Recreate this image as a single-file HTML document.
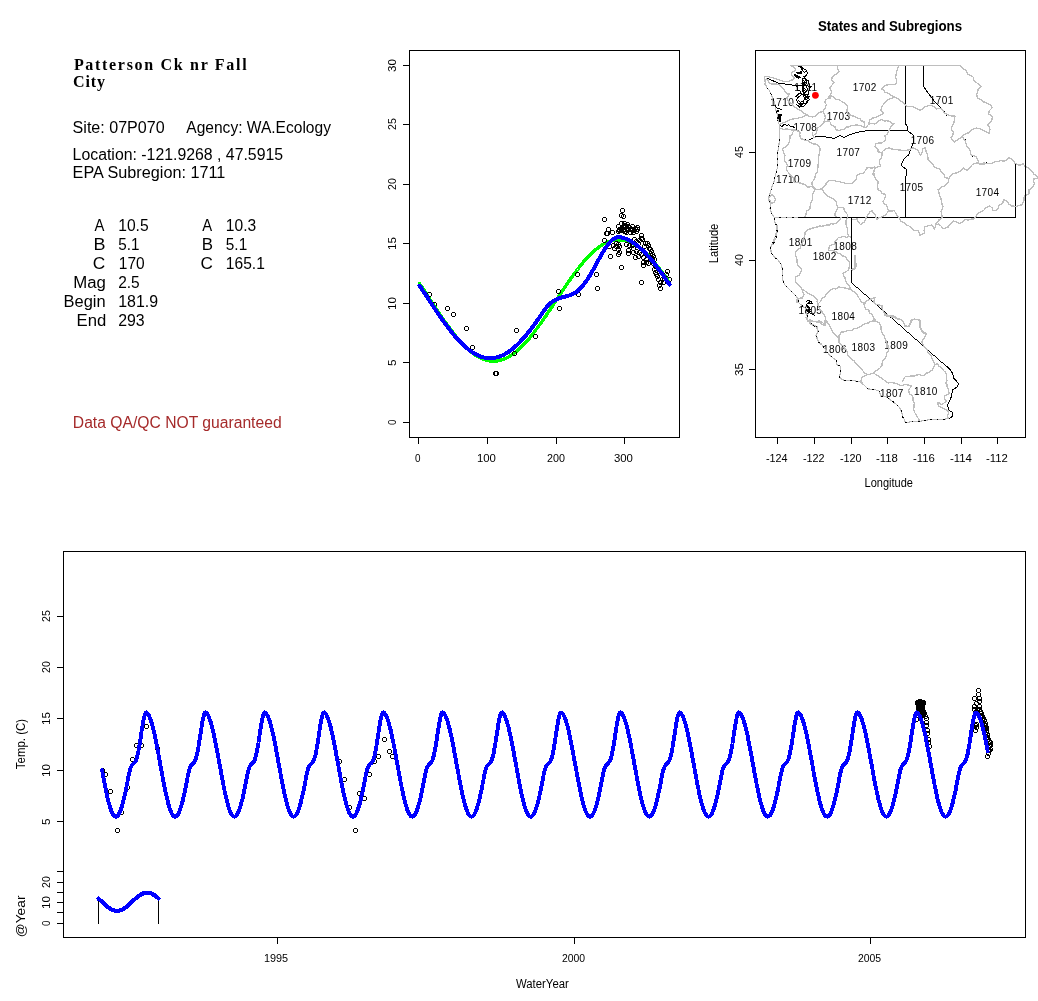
<!DOCTYPE html>
<html><head><meta charset="utf-8"><title>Patterson Ck nr Fall City</title>
<style>html,body{margin:0;padding:0;background:#fff}svg{display:block}text{white-space:pre}</style></head>
<body><svg width="1038" height="1001" viewBox="0 0 1038 1001">
<rect width="1038" height="1001" fill="#fff"/>
<g shape-rendering="crispEdges">
<rect x="409.5" y="50.5" width="270" height="387" fill="none" stroke="#000"/>
<line x1="403" y1="422.5" x2="409" y2="422.5" stroke="#000" stroke-width="1" />
<line x1="403" y1="362.5" x2="409" y2="362.5" stroke="#000" stroke-width="1" />
<line x1="403" y1="303.5" x2="409" y2="303.5" stroke="#000" stroke-width="1" />
<line x1="403" y1="243.5" x2="409" y2="243.5" stroke="#000" stroke-width="1" />
<line x1="403" y1="184.5" x2="409" y2="184.5" stroke="#000" stroke-width="1" />
<line x1="403" y1="124.5" x2="409" y2="124.5" stroke="#000" stroke-width="1" />
<line x1="403" y1="65.5" x2="409" y2="65.5" stroke="#000" stroke-width="1" />
<line x1="418.5" y1="437" x2="418.5" y2="444" stroke="#000" stroke-width="1" />
<line x1="487.5" y1="437" x2="487.5" y2="444" stroke="#000" stroke-width="1" />
<line x1="556.5" y1="437" x2="556.5" y2="444" stroke="#000" stroke-width="1" />
<line x1="624.5" y1="437" x2="624.5" y2="444" stroke="#000" stroke-width="1" />
</g>
<g font-family='"Liberation Sans", sans-serif' font-size="11.2">
</g>
<polyline points="419.5,283.6 420.9,285.6 422.2,287.6 423.6,289.7 425.0,291.7 426.4,293.8 427.7,295.9 429.1,298.0 430.5,300.1 431.8,302.1 433.2,304.2 434.6,306.3 436.0,308.4 437.3,310.5 438.7,312.5 440.1,314.6 441.5,316.6 442.8,318.6 444.2,320.6 445.6,322.5 447.0,324.5 448.3,326.4 449.7,328.2 451.1,330.1 452.5,331.9 453.8,333.7 455.2,335.4 456.6,337.1 457.9,338.7 459.3,340.3 460.7,341.9 462.1,343.4 463.4,344.8 464.8,346.2 466.2,347.6 467.6,348.9 468.9,350.1 470.3,351.3 471.7,352.4 473.1,353.5 474.4,354.4 475.8,355.4 477.2,356.2 478.6,357.0 479.9,357.7 481.3,358.4 482.7,359.0 484.0,359.5 485.4,360.0 486.8,360.4 488.2,360.7 489.5,360.9 490.9,361.1 492.3,361.2 493.7,361.2 495.0,361.1 496.4,361.0 497.8,360.8 499.2,360.6 500.5,360.2 501.9,359.8 503.3,359.3 504.6,358.8 506.0,358.2 507.4,357.5 508.8,356.8 510.1,355.9 511.5,355.0 512.9,354.1 514.3,353.1 515.6,352.0 517.0,350.9 518.4,349.7 519.8,348.4 521.1,347.1 522.5,345.8 523.9,344.3 525.3,342.9 526.6,341.3 528.0,339.8 529.4,338.2 530.7,336.5 532.1,334.8 533.5,333.1 534.9,331.3 536.2,329.4 537.6,327.6 539.0,325.7 540.4,323.8 541.7,321.8 543.1,319.9 544.5,317.9 545.9,315.9 547.2,313.8 548.6,311.8 550.0,309.7 551.4,307.7 552.7,305.6 554.1,303.5 555.5,301.4 556.8,299.3 558.2,297.2 559.6,295.2 561.0,293.1 562.3,291.0 563.7,288.9 565.1,286.9 566.5,284.9 567.8,282.9 569.2,280.9 570.6,278.9 572.0,277.0 573.3,275.0 574.7,273.2 576.1,271.3 577.5,269.5 578.8,267.7 580.2,266.0 581.6,264.3 582.9,262.6 584.3,261.0 585.7,259.4 587.1,257.9 588.4,256.5 589.8,255.1 591.2,253.7 592.6,252.4 593.9,251.1 595.3,250.0 596.7,248.8 598.1,247.8 599.4,246.7 600.8,245.8 602.2,244.9 603.5,244.1 604.9,243.4 606.3,242.7 607.7,242.1 609.0,241.6 610.4,241.1 611.8,240.7 613.2,240.4 614.5,240.1 615.9,239.9 617.3,239.8 618.7,239.8 620.0,239.8 621.4,239.9 622.8,240.1 624.2,240.3 625.5,240.6 626.9,241.0 628.3,241.5 629.6,242.0 631.0,242.6 632.4,243.3 633.8,244.0 635.1,244.8 636.5,245.7 637.9,246.6 639.3,247.6 640.6,248.7 642.0,249.8 643.4,251.0 644.8,252.2 646.1,253.5 647.5,254.8 648.9,256.2 650.3,257.7 651.6,259.2 653.0,260.8 654.4,262.4 655.7,264.0 657.1,265.7 658.5,267.5 659.9,269.2 661.2,271.0 662.6,272.9 664.0,274.8 665.4,276.7 666.7,278.6 668.1,280.6 669.5,282.6" fill="none" stroke="#00FF00" stroke-width="3.4" stroke-linejoin="round" stroke-linecap="round" shape-rendering="crispEdges"/>
<path d="M428.0 292.5h3M428.0 296.5h3M427.5 293.0v3M431.5 293.0v3M433.0 302.5h3M433.0 306.5h3M432.5 303.0v3M436.5 303.0v3M446.0 306.5h3M446.0 310.5h3M445.5 307.0v3M449.5 307.0v3M452.0 312.5h3M452.0 316.5h3M451.5 313.0v3M455.5 313.0v3M465.0 326.5h3M465.0 330.5h3M464.5 327.0v3M468.5 327.0v3M471.0 345.5h3M471.0 349.5h3M470.5 346.0v3M474.5 346.0v3M494.0 371.5h3M494.0 375.5h3M493.5 372.0v3M497.5 372.0v3M495.0 371.5h3M495.0 375.5h3M494.5 372.0v3M498.5 372.0v3M515.0 328.5h3M515.0 332.5h3M514.5 329.0v3M518.5 329.0v3M513.0 351.5h3M513.0 355.5h3M512.5 352.0v3M516.5 352.0v3M534.0 334.5h3M534.0 338.5h3M533.5 335.0v3M537.5 335.0v3M558.0 306.5h3M558.0 310.5h3M557.5 307.0v3M561.5 307.0v3M557.0 289.5h3M557.0 293.5h3M556.5 290.0v3M560.5 290.0v3M576.0 272.5h3M576.0 276.5h3M575.5 273.0v3M579.5 273.0v3M577.0 292.5h3M577.0 296.5h3M576.5 293.0v3M580.5 293.0v3M595.0 272.5h3M595.0 276.5h3M594.5 273.0v3M598.5 273.0v3M596.0 286.5h3M596.0 290.5h3M595.5 287.0v3M599.5 287.0v3M609.0 254.5h3M609.0 258.5h3M608.5 255.0v3M612.5 255.0v3M620.0 265.5h3M620.0 269.5h3M619.5 266.0v3M623.5 266.0v3M640.0 280.5h3M640.0 284.5h3M639.5 281.0v3M643.5 281.0v3M603.0 217.5h3M603.0 221.5h3M602.5 218.0v3M606.5 218.0v3M621.0 208.5h3M621.0 212.5h3M620.5 209.0v3M624.5 209.0v3M620.0 213.5h3M620.0 217.5h3M619.5 214.0v3M623.5 214.0v3M622.0 214.5h3M622.0 218.5h3M621.5 215.0v3M625.5 215.0v3M607.0 227.5h3M607.0 231.5h3M606.5 228.0v3M610.5 228.0v3M605.0 231.5h3M605.0 235.5h3M604.5 232.0v3M608.5 232.0v3M606.0 231.5h3M606.0 235.5h3M605.5 232.0v3M609.5 232.0v3M605.0 231.5h3M605.0 235.5h3M604.5 232.0v3M608.5 232.0v3M611.0 230.5h3M611.0 234.5h3M610.5 231.0v3M614.5 231.0v3M603.0 238.5h3M603.0 242.5h3M602.5 239.0v3M606.5 239.0v3M617.0 224.5h3M617.0 228.5h3M616.5 225.0v3M620.5 225.0v3M620.0 221.5h3M620.0 225.5h3M619.5 222.0v3M623.5 222.0v3M623.0 221.5h3M623.0 225.5h3M622.5 222.0v3M626.5 222.0v3M626.0 222.5h3M626.0 226.5h3M625.5 223.0v3M629.5 223.0v3M624.0 224.5h3M624.0 228.5h3M623.5 225.0v3M627.5 225.0v3M621.0 226.5h3M621.0 230.5h3M620.5 227.0v3M624.5 227.0v3M618.0 227.5h3M618.0 231.5h3M617.5 228.0v3M621.5 228.0v3M617.0 229.5h3M617.0 233.5h3M616.5 230.0v3M620.5 230.0v3M620.0 228.5h3M620.0 232.5h3M619.5 229.0v3M623.5 229.0v3M623.0 227.5h3M623.0 231.5h3M622.5 228.0v3M626.5 228.0v3M626.0 227.5h3M626.0 231.5h3M625.5 228.0v3M629.5 228.0v3M628.0 225.5h3M628.0 229.5h3M627.5 226.0v3M631.5 226.0v3M631.0 224.5h3M631.0 228.5h3M630.5 225.0v3M634.5 225.0v3M631.0 227.5h3M631.0 231.5h3M630.5 228.0v3M634.5 228.0v3M634.0 226.5h3M634.0 230.5h3M633.5 227.0v3M637.5 227.0v3M636.0 225.5h3M636.0 229.5h3M635.5 226.0v3M639.5 226.0v3M636.0 227.5h3M636.0 231.5h3M635.5 228.0v3M639.5 228.0v3M635.0 229.5h3M635.0 233.5h3M634.5 230.0v3M638.5 230.0v3M632.0 230.5h3M632.0 234.5h3M631.5 231.0v3M635.5 231.0v3M629.0 230.5h3M629.0 234.5h3M628.5 231.0v3M632.5 231.0v3M625.0 230.5h3M625.0 234.5h3M624.5 231.0v3M628.5 231.0v3M640.0 233.5h3M640.0 237.5h3M639.5 234.0v3M643.5 234.0v3M640.0 236.5h3M640.0 240.5h3M639.5 237.0v3M643.5 237.0v3M638.0 238.5h3M638.0 242.5h3M637.5 239.0v3M641.5 239.0v3M641.0 237.5h3M641.0 241.5h3M640.5 238.0v3M644.5 238.0v3M646.0 241.5h3M646.0 245.5h3M645.5 242.0v3M649.5 242.0v3M647.0 243.5h3M647.0 247.5h3M646.5 244.0v3M650.5 244.0v3M648.0 246.5h3M648.0 250.5h3M647.5 247.0v3M651.5 247.0v3M650.0 249.5h3M650.0 253.5h3M649.5 250.0v3M653.5 250.0v3M651.0 252.5h3M651.0 256.5h3M650.5 253.0v3M654.5 253.0v3M652.0 254.5h3M652.0 258.5h3M651.5 255.0v3M655.5 255.0v3M653.0 257.5h3M653.0 261.5h3M652.5 258.0v3M656.5 258.0v3M618.0 228.5h3M618.0 232.5h3M617.5 229.0v3M621.5 229.0v3M620.0 227.5h3M620.0 231.5h3M619.5 228.0v3M623.5 228.0v3M622.0 224.5h3M622.0 228.5h3M621.5 225.0v3M625.5 225.0v3M624.0 223.5h3M624.0 227.5h3M623.5 224.0v3M627.5 224.0v3M625.0 226.5h3M625.0 230.5h3M624.5 227.0v3M628.5 227.0v3M627.0 224.5h3M627.0 228.5h3M626.5 225.0v3M630.5 225.0v3M623.0 229.5h3M623.0 233.5h3M622.5 230.0v3M626.5 230.0v3M624.0 229.5h3M624.0 233.5h3M623.5 230.0v3M627.5 230.0v3M629.0 227.5h3M629.0 231.5h3M628.5 228.0v3M632.5 228.0v3M633.0 228.5h3M633.0 232.5h3M632.5 229.0v3M636.5 229.0v3M608.0 244.5h3M608.0 248.5h3M607.5 245.0v3M611.5 245.0v3M612.0 243.5h3M612.0 247.5h3M611.5 244.0v3M615.5 244.0v3M613.0 246.5h3M613.0 250.5h3M612.5 247.0v3M616.5 247.0v3M615.0 241.5h3M615.0 245.5h3M614.5 242.0v3M618.5 242.0v3M617.0 242.5h3M617.0 246.5h3M616.5 243.0v3M620.5 243.0v3M618.0 244.5h3M618.0 248.5h3M617.5 245.0v3M621.5 245.0v3M617.0 247.5h3M617.0 251.5h3M616.5 248.0v3M620.5 248.0v3M618.0 250.5h3M618.0 254.5h3M617.5 251.0v3M621.5 251.0v3M617.0 252.5h3M617.0 256.5h3M616.5 253.0v3M620.5 253.0v3M615.0 244.5h3M615.0 248.5h3M614.5 245.0v3M618.5 245.0v3M625.0 242.5h3M625.0 246.5h3M624.5 243.0v3M628.5 243.0v3M628.0 243.5h3M628.0 247.5h3M627.5 244.0v3M631.5 244.0v3M631.0 243.5h3M631.0 247.5h3M630.5 244.0v3M634.5 244.0v3M632.0 246.5h3M632.0 250.5h3M631.5 247.0v3M635.5 247.0v3M627.0 248.5h3M627.0 252.5h3M626.5 249.0v3M630.5 249.0v3M627.0 251.5h3M627.0 255.5h3M626.5 252.0v3M630.5 252.0v3M632.0 250.5h3M632.0 254.5h3M631.5 251.0v3M635.5 251.0v3M634.0 255.5h3M634.0 259.5h3M633.5 256.0v3M637.5 256.0v3M637.0 254.5h3M637.0 258.5h3M636.5 255.0v3M640.5 255.0v3M635.0 249.5h3M635.0 253.5h3M634.5 250.0v3M638.5 250.0v3M638.0 250.5h3M638.0 254.5h3M637.5 251.0v3M641.5 251.0v3M640.0 252.5h3M640.0 256.5h3M639.5 253.0v3M643.5 253.0v3M642.0 255.5h3M642.0 259.5h3M641.5 256.0v3M645.5 256.0v3M642.0 260.5h3M642.0 264.5h3M641.5 261.0v3M645.5 261.0v3M642.0 263.5h3M642.0 267.5h3M641.5 264.0v3M645.5 264.0v3M645.0 257.5h3M645.0 261.5h3M644.5 258.0v3M648.5 258.0v3M647.0 261.5h3M647.0 265.5h3M646.5 262.0v3M650.5 262.0v3M645.0 260.5h3M645.0 264.5h3M644.5 261.0v3M648.5 261.0v3M653.0 267.5h3M653.0 271.5h3M652.5 268.0v3M656.5 268.0v3M654.0 270.5h3M654.0 274.5h3M653.5 271.0v3M657.5 271.0v3M656.0 274.5h3M656.0 278.5h3M655.5 275.0v3M659.5 275.0v3M657.0 277.5h3M657.0 281.5h3M656.5 278.0v3M660.5 278.0v3M659.0 280.5h3M659.0 284.5h3M658.5 281.0v3M662.5 281.0v3M658.0 283.5h3M658.0 287.5h3M657.5 284.0v3M661.5 284.0v3M659.0 286.5h3M659.0 290.5h3M658.5 287.0v3M662.5 287.0v3M662.0 280.5h3M662.0 284.5h3M661.5 281.0v3M665.5 281.0v3M663.0 276.5h3M663.0 280.5h3M662.5 277.0v3M666.5 277.0v3M665.0 272.5h3M665.0 276.5h3M664.5 273.0v3M668.5 273.0v3M666.0 269.5h3M666.0 273.5h3M665.5 270.0v3M669.5 270.0v3M668.0 277.5h3M668.0 281.5h3M667.5 278.0v3M671.5 278.0v3M661.0 277.5h3M661.0 281.5h3M660.5 278.0v3M664.5 278.0v3M655.0 272.5h3M655.0 276.5h3M654.5 273.0v3M658.5 273.0v3M649.0 253.5h3M649.0 257.5h3M648.5 254.0v3M652.5 254.0v3M651.0 257.5h3M651.0 261.5h3M650.5 258.0v3M654.5 258.0v3M649.0 247.5h3M649.0 251.5h3M648.5 248.0v3M652.5 248.0v3M652.0 261.5h3M652.0 265.5h3M651.5 262.0v3M655.5 262.0v3M654.0 264.5h3M654.0 268.5h3M653.5 265.0v3M657.5 265.0v3M643.0 244.5h3M643.0 248.5h3M642.5 245.0v3M646.5 245.0v3M644.0 241.5h3M644.0 245.5h3M643.5 242.0v3M647.5 242.0v3M637.0 241.5h3M637.0 245.5h3M636.5 242.0v3M640.5 242.0v3M635.0 239.5h3M635.0 243.5h3M634.5 240.0v3M638.5 240.0v3M633.0 237.5h3M633.0 241.5h3M632.5 238.0v3M636.5 238.0v3" fill="none" stroke="#000" stroke-width="1" shape-rendering="crispEdges"/>
<polyline points="419.5,285.6 420.9,287.6 422.2,289.7 423.6,291.8 425.0,293.8 426.4,295.9 427.7,298.0 429.1,300.1 430.5,302.2 431.8,304.3 433.2,306.3 434.6,308.4 436.0,310.5 437.3,312.5 438.7,314.5 440.1,316.5 441.5,318.5 442.8,320.4 444.2,322.4 445.6,324.2 447.0,326.1 448.3,327.9 449.7,329.7 451.1,331.5 452.5,333.2 453.8,334.9 455.2,336.5 456.6,338.1 457.9,339.6 459.3,341.1 460.7,342.5 462.1,343.9 463.4,345.2 464.8,346.5 466.2,347.7 467.6,348.8 468.9,349.9 470.3,350.9 471.7,351.9 473.1,352.8 474.4,353.6 475.8,354.4 477.2,355.1 478.6,355.7 479.9,356.3 481.3,356.8 482.7,357.2 484.0,357.5 485.4,357.8 486.8,358.0 488.2,358.1 489.5,358.2 490.9,358.2 492.3,358.1 493.7,358.0 495.0,357.7 496.4,357.4 497.8,357.1 499.2,356.6 500.5,356.1 501.9,355.6 503.3,354.9 504.6,354.2 506.0,353.4 507.4,352.6 508.8,351.7 510.1,350.7 511.5,349.6 512.9,348.5 514.3,347.4 515.6,346.2 517.0,344.9 518.4,343.5 519.8,342.1 521.1,340.7 522.5,339.2 523.9,337.7 525.3,336.1 526.6,334.4 528.0,332.8 529.4,331.0 530.7,329.3 532.1,327.5 533.5,325.6 534.9,323.8 536.2,321.9 537.6,319.9 539.0,318.0 540.4,316.0 541.7,314.0 543.1,312.0 544.5,310.0 545.9,308.1 547.2,306.4 548.6,304.9 550.0,303.6 551.4,302.4 552.7,301.4 554.1,300.5 555.5,299.8 556.8,299.1 558.2,298.6 559.6,298.1 561.0,297.7 562.3,297.3 563.7,297.0 565.1,296.6 566.5,296.3 567.8,295.9 569.2,295.5 570.6,295.0 572.0,294.4 573.3,293.7 574.7,293.0 576.1,292.1 577.5,291.0 578.8,289.8 580.2,288.5 581.6,287.1 582.9,285.5 584.3,283.8 585.7,281.9 587.1,279.9 588.4,277.8 589.8,275.5 591.2,273.2 592.6,270.8 593.9,268.4 595.3,265.9 596.7,263.4 598.1,260.8 599.4,258.3 600.8,255.9 602.2,253.5 603.5,251.2 604.9,249.0 606.3,246.9 607.7,245.0 609.0,243.2 610.4,241.7 611.8,240.3 613.2,239.2 614.5,238.3 615.9,237.6 617.3,237.2 618.7,237.1 620.0,237.2 621.4,237.5 622.8,237.8 624.2,238.2 625.5,238.7 626.9,239.3 628.3,239.9 629.6,240.6 631.0,241.4 632.4,242.2 633.8,243.1 635.1,244.1 636.5,245.1 637.9,246.2 639.3,247.3 640.6,248.5 642.0,249.8 643.4,251.1 644.8,252.5 646.1,253.9 647.5,255.4 648.9,256.9 650.3,258.5 651.6,260.1 653.0,261.8 654.4,263.5 655.7,265.3 657.1,267.1 658.5,268.9 659.9,270.8 661.2,272.6 662.6,274.6 664.0,276.5 665.4,278.5 666.7,280.5 668.1,282.5 669.5,284.5" fill="none" stroke="#0000FF" stroke-width="4" stroke-linejoin="round" stroke-linecap="round" shape-rendering="crispEdges"/>
<g shape-rendering="crispEdges">
<rect x="63.5" y="551.5" width="962" height="386" fill="none" stroke="#000"/>
<line x1="57" y1="821.5" x2="63" y2="821.5" stroke="#000" stroke-width="1" />
<line x1="57" y1="770.5" x2="63" y2="770.5" stroke="#000" stroke-width="1" />
<line x1="57" y1="718.5" x2="63" y2="718.5" stroke="#000" stroke-width="1" />
<line x1="57" y1="667.5" x2="63" y2="667.5" stroke="#000" stroke-width="1" />
<line x1="57" y1="616.5" x2="63" y2="616.5" stroke="#000" stroke-width="1" />
<line x1="57" y1="923.5" x2="63" y2="923.5" stroke="#000" stroke-width="1" />
<line x1="57" y1="912.5" x2="63" y2="912.5" stroke="#000" stroke-width="1" />
<line x1="57" y1="902.5" x2="63" y2="902.5" stroke="#000" stroke-width="1" />
<line x1="57" y1="892.5" x2="63" y2="892.5" stroke="#000" stroke-width="1" />
<line x1="57" y1="882.5" x2="63" y2="882.5" stroke="#000" stroke-width="1" />
<line x1="57" y1="871.5" x2="63" y2="871.5" stroke="#000" stroke-width="1" />
<line x1="277.5" y1="937" x2="277.5" y2="944" stroke="#000" stroke-width="1" />
<line x1="574.5" y1="937" x2="574.5" y2="944" stroke="#000" stroke-width="1" />
<line x1="870.5" y1="937" x2="870.5" y2="944" stroke="#000" stroke-width="1" />
</g>
<g font-family='"Liberation Sans", sans-serif' font-size="11.2">
</g>
<path d="M101.0 768.5h3M101.0 772.5h3M100.5 769.0v3M104.5 769.0v3M104.0 772.5h3M104.0 776.5h3M103.5 773.0v3M107.5 773.0v3M109.0 789.5h3M109.0 793.5h3M108.5 790.0v3M112.5 790.0v3M116.0 828.5h3M116.0 832.5h3M115.5 829.0v3M119.5 829.0v3M120.0 810.5h3M120.0 814.5h3M119.5 811.0v3M123.5 811.0v3M126.0 785.5h3M126.0 789.5h3M125.5 786.0v3M129.5 786.0v3M131.0 757.5h3M131.0 761.5h3M130.5 758.0v3M134.5 758.0v3M135.0 743.5h3M135.0 747.5h3M134.5 744.0v3M138.5 744.0v3M140.0 743.5h3M140.0 747.5h3M139.5 744.0v3M143.5 744.0v3M145.0 724.5h3M145.0 728.5h3M144.5 725.0v3M148.5 725.0v3M156.0 746.5h3M156.0 750.5h3M155.5 747.0v3M159.5 747.0v3M338.0 759.5h3M338.0 763.5h3M337.5 760.0v3M341.5 760.0v3M343.0 777.5h3M343.0 781.5h3M342.5 778.0v3M346.5 778.0v3M348.0 805.5h3M348.0 809.5h3M347.5 806.0v3M351.5 806.0v3M354.0 828.5h3M354.0 832.5h3M353.5 829.0v3M357.5 829.0v3M358.0 791.5h3M358.0 795.5h3M357.5 792.0v3M361.5 792.0v3M363.0 796.5h3M363.0 800.5h3M362.5 797.0v3M366.5 797.0v3M368.0 772.5h3M368.0 776.5h3M367.5 773.0v3M371.5 773.0v3M373.0 759.5h3M373.0 763.5h3M372.5 760.0v3M376.5 760.0v3M377.0 754.5h3M377.0 758.5h3M376.5 755.0v3M380.5 755.0v3M383.0 737.5h3M383.0 741.5h3M382.5 738.0v3M386.5 738.0v3M388.0 749.5h3M388.0 753.5h3M387.5 750.0v3M391.5 750.0v3M391.0 754.5h3M391.0 758.5h3M390.5 755.0v3M394.5 755.0v3" fill="none" stroke="#000" stroke-width="1" shape-rendering="crispEdges"/>
<path d="M918.0 701.5h3M918.0 705.5h3M917.5 702.0v3M921.5 702.0v3M920.0 700.5h3M920.0 704.5h3M919.5 701.0v3M923.5 701.0v3M919.0 704.5h3M919.0 708.5h3M918.5 705.0v3M922.5 705.0v3M916.0 700.5h3M916.0 704.5h3M915.5 701.0v3M919.5 701.0v3M919.0 711.5h3M919.0 715.5h3M918.5 712.0v3M922.5 712.0v3M917.0 702.5h3M917.0 706.5h3M916.5 703.0v3M920.5 703.0v3M920.0 713.5h3M920.0 717.5h3M919.5 714.0v3M923.5 714.0v3M920.0 705.5h3M920.0 709.5h3M919.5 706.0v3M923.5 706.0v3M922.0 700.5h3M922.0 704.5h3M921.5 701.0v3M925.5 701.0v3M921.0 703.5h3M921.0 707.5h3M920.5 704.0v3M924.5 704.0v3M917.0 701.5h3M917.0 705.5h3M916.5 702.0v3M920.5 702.0v3M920.0 704.5h3M920.0 708.5h3M919.5 705.0v3M923.5 705.0v3M919.0 700.5h3M919.0 704.5h3M918.5 701.0v3M922.5 701.0v3M920.0 705.5h3M920.0 709.5h3M919.5 706.0v3M923.5 706.0v3M918.0 707.5h3M918.0 711.5h3M917.5 708.0v3M921.5 708.0v3M919.0 703.5h3M919.0 707.5h3M918.5 704.0v3M922.5 704.0v3M921.0 709.5h3M921.0 713.5h3M920.5 710.0v3M924.5 710.0v3M917.0 707.5h3M917.0 711.5h3M916.5 708.0v3M920.5 708.0v3M919.0 712.5h3M919.0 716.5h3M918.5 713.0v3M922.5 713.0v3M921.0 703.5h3M921.0 707.5h3M920.5 704.0v3M924.5 704.0v3M922.0 701.5h3M922.0 705.5h3M921.5 702.0v3M925.5 702.0v3M919.0 710.5h3M919.0 714.5h3M918.5 711.0v3M922.5 711.0v3M921.0 707.5h3M921.0 711.5h3M920.5 708.0v3M924.5 708.0v3M921.0 704.5h3M921.0 708.5h3M920.5 705.0v3M924.5 705.0v3M920.0 708.5h3M920.0 712.5h3M919.5 709.0v3M923.5 709.0v3M920.0 706.5h3M920.0 710.5h3M919.5 707.0v3M923.5 707.0v3M921.0 713.5h3M921.0 717.5h3M920.5 714.0v3M924.5 714.0v3M919.0 709.5h3M919.0 713.5h3M918.5 710.0v3M922.5 710.0v3M920.0 713.5h3M920.0 717.5h3M919.5 714.0v3M923.5 714.0v3M921.0 703.5h3M921.0 707.5h3M920.5 704.0v3M924.5 704.0v3M918.0 709.5h3M918.0 713.5h3M917.5 710.0v3M921.5 710.0v3M917.0 701.5h3M917.0 705.5h3M916.5 702.0v3M920.5 702.0v3M917.0 703.5h3M917.0 707.5h3M916.5 704.0v3M920.5 704.0v3M918.0 712.5h3M918.0 716.5h3M917.5 713.0v3M921.5 713.0v3M919.0 712.5h3M919.0 716.5h3M918.5 713.0v3M922.5 713.0v3M921.0 712.5h3M921.0 716.5h3M920.5 713.0v3M924.5 713.0v3M918.0 705.5h3M918.0 709.5h3M917.5 706.0v3M921.5 706.0v3M918.0 712.5h3M918.0 716.5h3M917.5 713.0v3M921.5 713.0v3M922.0 701.5h3M922.0 705.5h3M921.5 702.0v3M925.5 702.0v3M917.0 702.5h3M917.0 706.5h3M916.5 703.0v3M920.5 703.0v3M917.0 706.5h3M917.0 710.5h3M916.5 707.0v3M920.5 707.0v3M920.0 703.5h3M920.0 707.5h3M919.5 704.0v3M923.5 704.0v3M918.0 707.5h3M918.0 711.5h3M917.5 708.0v3M921.5 708.0v3M922.0 709.5h3M922.0 713.5h3M921.5 710.0v3M925.5 710.0v3M919.0 708.5h3M919.0 712.5h3M918.5 709.0v3M922.5 709.0v3M920.0 700.5h3M920.0 704.5h3M919.5 701.0v3M923.5 701.0v3M922.0 710.5h3M922.0 714.5h3M921.5 711.0v3M925.5 711.0v3M921.0 711.5h3M921.0 715.5h3M920.5 712.0v3M924.5 712.0v3M918.0 705.5h3M918.0 709.5h3M917.5 706.0v3M921.5 706.0v3M916.0 700.5h3M916.0 704.5h3M915.5 701.0v3M919.5 701.0v3M917.0 701.5h3M917.0 705.5h3M916.5 702.0v3M920.5 702.0v3M918.0 700.5h3M918.0 704.5h3M917.5 701.0v3M921.5 701.0v3M920.0 701.5h3M920.0 705.5h3M919.5 702.0v3M923.5 702.0v3M917.0 704.5h3M917.0 708.5h3M916.5 705.0v3M920.5 705.0v3M918.0 701.5h3M918.0 705.5h3M917.5 702.0v3M921.5 702.0v3M921.0 713.5h3M921.0 717.5h3M920.5 714.0v3M924.5 714.0v3M919.0 706.5h3M919.0 710.5h3M918.5 707.0v3M922.5 707.0v3M916.0 700.5h3M916.0 704.5h3M915.5 701.0v3M919.5 701.0v3M918.0 703.5h3M918.0 707.5h3M917.5 704.0v3M921.5 704.0v3M921.0 701.5h3M921.0 705.5h3M920.5 702.0v3M924.5 702.0v3M919.0 701.5h3M919.0 705.5h3M918.5 702.0v3M922.5 702.0v3M919.0 699.5h3M919.0 703.5h3M918.5 700.0v3M922.5 700.0v3M919.0 713.5h3M919.0 717.5h3M918.5 714.0v3M922.5 714.0v3M921.0 709.5h3M921.0 713.5h3M920.5 710.0v3M924.5 710.0v3M917.0 704.5h3M917.0 708.5h3M916.5 705.0v3M920.5 705.0v3M919.0 710.5h3M919.0 714.5h3M918.5 711.0v3M922.5 711.0v3M918.0 702.5h3M918.0 706.5h3M917.5 703.0v3M921.5 703.0v3M921.0 713.5h3M921.0 717.5h3M920.5 714.0v3M924.5 714.0v3M921.0 711.5h3M921.0 715.5h3M920.5 712.0v3M924.5 712.0v3M921.0 710.5h3M921.0 714.5h3M920.5 711.0v3M924.5 711.0v3M917.0 707.5h3M917.0 711.5h3M916.5 708.0v3M920.5 708.0v3M918.0 699.5h3M918.0 703.5h3M917.5 700.0v3M921.5 700.0v3M919.0 699.5h3M919.0 703.5h3M918.5 700.0v3M922.5 700.0v3M916.0 701.5h3M916.0 705.5h3M915.5 702.0v3M919.5 702.0v3M921.0 701.5h3M921.0 705.5h3M920.5 702.0v3M924.5 702.0v3M925.0 716.5h3M925.0 720.5h3M924.5 717.0v3M928.5 717.0v3M926.0 728.5h3M926.0 732.5h3M925.5 729.0v3M929.5 729.0v3M926.0 731.5h3M926.0 735.5h3M925.5 732.0v3M929.5 732.0v3M927.0 737.5h3M927.0 741.5h3M926.5 738.0v3M930.5 738.0v3M927.0 740.5h3M927.0 744.5h3M926.5 741.0v3M930.5 741.0v3M928.0 744.5h3M928.0 748.5h3M927.5 745.0v3M931.5 745.0v3M925.0 720.5h3M925.0 724.5h3M924.5 721.0v3M928.5 721.0v3M925.0 723.5h3M925.0 727.5h3M924.5 724.0v3M928.5 724.0v3M924.0 714.5h3M924.0 718.5h3M923.5 715.0v3M927.5 715.0v3M923.0 711.5h3M923.0 715.5h3M922.5 712.0v3M926.5 712.0v3M915.0 717.5h3M915.0 721.5h3M914.5 718.0v3M918.5 718.0v3M977.0 688.5h3M977.0 692.5h3M976.5 689.0v3M980.5 689.0v3M977.0 692.5h3M977.0 696.5h3M976.5 693.0v3M980.5 693.0v3M973.0 696.5h3M973.0 700.5h3M972.5 697.0v3M976.5 697.0v3M978.0 696.5h3M978.0 700.5h3M977.5 697.0v3M981.5 697.0v3M978.0 699.5h3M978.0 703.5h3M977.5 700.0v3M981.5 700.0v3M978.0 704.5h3M978.0 708.5h3M977.5 705.0v3M981.5 705.0v3M973.0 704.5h3M973.0 708.5h3M972.5 705.0v3M976.5 705.0v3M975.0 701.5h3M975.0 705.5h3M974.5 702.0v3M978.5 702.0v3M976.0 707.5h3M976.0 711.5h3M975.5 708.0v3M979.5 708.0v3M973.0 707.5h3M973.0 711.5h3M972.5 708.0v3M976.5 708.0v3M975.0 709.5h3M975.0 713.5h3M974.5 710.0v3M978.5 710.0v3M980.0 711.5h3M980.0 715.5h3M979.5 712.0v3M983.5 712.0v3M981.0 714.5h3M981.0 718.5h3M980.5 715.0v3M984.5 715.0v3M982.0 716.5h3M982.0 720.5h3M981.5 717.0v3M985.5 717.0v3M983.0 718.5h3M983.0 722.5h3M982.5 719.0v3M986.5 719.0v3M984.0 721.5h3M984.0 725.5h3M983.5 722.0v3M987.5 722.0v3M984.0 723.5h3M984.0 727.5h3M983.5 724.0v3M987.5 724.0v3M985.0 725.5h3M985.0 729.5h3M984.5 726.0v3M988.5 726.0v3M985.0 728.5h3M985.0 732.5h3M984.5 729.0v3M988.5 729.0v3M985.0 730.5h3M985.0 734.5h3M984.5 731.0v3M988.5 731.0v3M986.0 732.5h3M986.0 736.5h3M985.5 733.0v3M989.5 733.0v3M986.0 735.5h3M986.0 739.5h3M985.5 736.0v3M989.5 736.0v3M987.0 737.5h3M987.0 741.5h3M986.5 738.0v3M990.5 738.0v3M988.0 739.5h3M988.0 743.5h3M987.5 740.0v3M991.5 740.0v3M989.0 740.5h3M989.0 744.5h3M988.5 741.0v3M992.5 741.0v3M989.0 743.5h3M989.0 747.5h3M988.5 744.0v3M992.5 744.0v3M989.0 747.5h3M989.0 751.5h3M988.5 748.0v3M992.5 748.0v3M988.0 748.5h3M988.0 752.5h3M987.5 749.0v3M991.5 749.0v3M987.0 751.5h3M987.0 755.5h3M986.5 752.0v3M990.5 752.0v3M986.0 754.5h3M986.0 758.5h3M985.5 755.0v3M989.5 755.0v3M975.0 725.5h3M975.0 729.5h3M974.5 726.0v3M978.5 726.0v3M974.0 728.5h3M974.0 732.5h3M973.5 729.0v3M977.5 729.0v3M975.0 722.5h3M975.0 726.5h3M974.5 723.0v3M978.5 723.0v3M974.0 723.5h3M974.0 727.5h3M973.5 724.0v3M977.5 724.0v3M980.0 713.5h3M980.0 717.5h3M979.5 714.0v3M983.5 714.0v3M982.0 720.5h3M982.0 724.5h3M981.5 721.0v3M985.5 721.0v3M983.0 722.5h3M983.0 726.5h3M982.5 723.0v3M986.5 723.0v3M984.0 726.5h3M984.0 730.5h3M983.5 727.0v3M987.5 727.0v3M984.0 731.5h3M984.0 735.5h3M983.5 732.0v3M987.5 732.0v3M985.0 736.5h3M985.0 740.5h3M984.5 737.0v3M988.5 737.0v3M987.0 741.5h3M987.0 745.5h3M986.5 742.0v3M990.5 742.0v3M987.0 745.5h3M987.0 749.5h3M986.5 746.0v3M990.5 746.0v3M988.0 744.5h3M988.0 748.5h3M987.5 745.0v3M991.5 745.0v3M987.0 747.5h3M987.0 751.5h3M986.5 748.0v3M990.5 748.0v3M979.0 709.5h3M979.0 713.5h3M978.5 710.0v3M982.5 710.0v3M978.0 707.5h3M978.0 711.5h3M977.5 708.0v3M981.5 708.0v3M979.0 714.5h3M979.0 718.5h3M978.5 715.0v3M982.5 715.0v3M981.0 717.5h3M981.0 721.5h3M980.5 718.0v3M984.5 718.0v3" fill="none" stroke="#000" stroke-width="1" shape-rendering="crispEdges"/>
<polyline points="102.1,770.2 102.6,772.9 103.1,775.5 103.5,778.2 104.0,780.7 104.5,783.3 105.0,785.8 105.5,788.2 106.0,790.6 106.5,792.9 107.0,795.1 107.4,797.2 107.9,799.3 108.4,801.3 108.9,803.1 109.4,804.9 109.9,806.5 110.4,808.1 110.9,809.5 111.3,810.8 111.8,812.0 112.3,813.0 112.8,814.0 113.3,814.7 113.8,815.4 114.3,815.9 114.8,816.3 115.2,816.5 115.7,816.6 116.2,816.6 116.7,816.4 117.2,816.1 117.7,815.7 118.2,815.1 118.6,814.4 119.1,813.5 119.6,812.5 120.1,811.4 120.6,810.2 121.1,808.8 121.6,807.3 122.1,805.7 122.5,804.0 123.0,802.2 123.5,800.3 124.0,798.3 124.5,796.2 125.0,794.0 125.5,791.7 126.0,789.4 126.4,787.0 126.9,784.5 127.4,782.0 127.9,779.5 128.4,776.9 128.9,774.3 129.4,772.1 129.9,770.2 130.3,768.6 130.8,767.3 131.3,766.3 131.8,765.5 132.3,764.9 132.8,764.4 133.3,763.9 133.8,763.5 134.2,763.0 134.7,762.4 135.2,761.7 135.7,760.8 136.2,759.7 136.7,758.3 137.2,756.7 137.6,754.7 138.1,752.5 138.6,750.1 139.1,747.4 139.6,744.5 140.1,741.4 140.6,738.2 141.1,735.0 141.5,731.7 142.0,728.5 142.5,725.5 143.0,722.6 143.5,720.0 144.0,717.7 144.5,715.7 145.0,714.2 145.4,713.1 145.9,712.5 146.4,712.4 146.9,712.7 147.4,713.2 147.9,713.8 148.4,714.5 148.9,715.4 149.3,716.4 149.8,717.5 150.3,718.8 150.8,720.2 151.3,721.7 151.8,723.3 152.3,725.0 152.7,726.9 153.2,728.8 153.7,730.8 154.2,732.9 154.7,735.1 155.2,737.4 155.7,739.7 156.2,742.2 156.6,744.6 157.1,747.2 157.6,749.7 158.1,752.3 158.6,755.0 159.1,757.6 159.6,760.3 160.1,763.0 160.5,765.7 161.0,768.4 161.5,771.1 162.0,773.8 162.5,776.4 163.0,779.0 163.5,781.6 164.0,784.1 164.4,786.6 164.9,789.0 165.4,791.4 165.9,793.6 166.4,795.8 166.9,797.9 167.4,800.0 167.9,801.9 168.3,803.7 168.8,805.4 169.3,807.1 169.8,808.6 170.3,809.9 170.8,811.2 171.3,812.3 171.7,813.4 172.2,814.2 172.7,815.0 173.2,815.6 173.7,816.1 174.2,816.4 174.7,816.6 175.2,816.6 175.6,816.6 176.1,816.3 176.6,816.0 177.1,815.5 177.6,814.9 178.1,814.1 178.6,813.2 179.1,812.2 179.5,811.0 180.0,809.7 180.5,808.3 181.0,806.8 181.5,805.2 182.0,803.4 182.5,801.6 183.0,799.6 183.4,797.6 183.9,795.5 184.4,793.3 184.9,791.0 185.4,788.6 185.9,786.2 186.4,783.7 186.8,781.2 187.3,778.6 187.8,776.0 188.3,773.5 188.8,771.4 189.3,769.6 189.8,768.2 190.3,767.0 190.7,766.0 191.2,765.3 191.7,764.7 192.2,764.2 192.7,763.8 193.2,763.3 193.7,762.8 194.2,762.2 194.6,761.4 195.1,760.5 195.6,759.3 196.1,757.8 196.6,756.0 197.1,754.0 197.6,751.7 198.1,749.2 198.5,746.4 199.0,743.5 199.5,740.4 200.0,737.1 200.5,733.9 201.0,730.7 201.5,727.5 202.0,724.5 202.4,721.7 202.9,719.2 203.4,717.0 203.9,715.2 204.4,713.8 204.9,712.8 205.4,712.4 205.8,712.5 206.3,712.8 206.8,713.4 207.3,714.0 207.8,714.8 208.3,715.7 208.8,716.8 209.3,718.0 209.7,719.3 210.2,720.7 210.7,722.2 211.2,723.9 211.7,725.6 212.2,727.5 212.7,729.5 213.2,731.5 213.6,733.6 214.1,735.9 214.6,738.2 215.1,740.5 215.6,743.0 216.1,745.5 216.6,748.0 217.1,750.6 217.5,753.2 218.0,755.9 218.5,758.5 219.0,761.2 219.5,763.9 220.0,766.6 220.5,769.3 221.0,772.0 221.4,774.7 221.9,777.3 222.4,779.9 222.9,782.4 223.4,784.9 223.9,787.4 224.4,789.8 224.8,792.1 225.3,794.4 225.8,796.5 226.3,798.6 226.8,800.6 227.3,802.5 227.8,804.3 228.3,806.0 228.7,807.6 229.2,809.0 229.7,810.4 230.2,811.6 230.7,812.7 231.2,813.7 231.7,814.5 232.2,815.2 232.6,815.8 233.1,816.2 233.6,816.5 234.1,816.6 234.6,816.6 235.1,816.5 235.6,816.2 236.1,815.8 236.5,815.3 237.0,814.6 237.5,813.8 238.0,812.9 238.5,811.8 239.0,810.6 239.5,809.3 239.9,807.8 240.4,806.3 240.9,804.6 241.4,802.8 241.9,800.9 242.4,799.0 242.9,796.9 243.4,794.7 243.8,792.5 244.3,790.2 244.8,787.8 245.3,785.4 245.8,782.9 246.3,780.3 246.8,777.7 247.3,775.1 247.7,772.8 248.2,770.8 248.7,769.1 249.2,767.7 249.7,766.6 250.2,765.8 250.7,765.1 251.2,764.5 251.6,764.1 252.1,763.6 252.6,763.2 253.1,762.6 253.6,762.0 254.1,761.1 254.6,760.1 255.1,758.8 255.5,757.2 256.0,755.4 256.5,753.3 257.0,750.9 257.5,748.3 258.0,745.5 258.5,742.5 258.9,739.3 259.4,736.1 259.9,732.8 260.4,729.6 260.9,726.5 261.4,723.5 261.9,720.8 262.4,718.4 262.8,716.3 263.3,714.6 263.8,713.4 264.3,712.6 264.8,712.4 265.3,712.6 265.8,713.0 266.3,713.6 266.7,714.3 267.2,715.1 267.7,716.1 268.2,717.2 268.7,718.4 269.2,719.7 269.7,721.2 270.2,722.8 270.6,724.4 271.1,726.2 271.6,728.1 272.1,730.1 272.6,732.2 273.1,734.4 273.6,736.6 274.0,739.0 274.5,741.3 275.0,743.8 275.5,746.3 276.0,748.9 276.5,751.5 277.0,754.1 277.5,756.8 277.9,759.4 278.4,762.1 278.9,764.8 279.4,767.5 279.9,770.2 280.4,772.9 280.9,775.5 281.4,778.2 281.8,780.7 282.3,783.3 282.8,785.8 283.3,788.2 283.8,790.6 284.3,792.9 284.8,795.1 285.3,797.2 285.7,799.3 286.2,801.3 286.7,803.1 287.2,804.9 287.7,806.5 288.2,808.1 288.7,809.5 289.2,810.8 289.6,812.0 290.1,813.0 290.6,814.0 291.1,814.7 291.6,815.4 292.1,815.9 292.6,816.3 293.0,816.5 293.5,816.6 294.0,816.6 294.5,816.4 295.0,816.1 295.5,815.7 296.0,815.1 296.5,814.4 296.9,813.5 297.4,812.5 297.9,811.4 298.4,810.2 298.9,808.8 299.4,807.3 299.9,805.7 300.4,804.0 300.8,802.2 301.3,800.3 301.8,798.3 302.3,796.2 302.8,794.0 303.3,791.7 303.8,789.4 304.3,787.0 304.7,784.5 305.2,782.0 305.7,779.5 306.2,776.9 306.7,774.3 307.2,772.1 307.7,770.2 308.2,768.6 308.6,767.3 309.1,766.3 309.6,765.5 310.1,764.9 310.6,764.4 311.1,763.9 311.6,763.5 312.0,763.0 312.5,762.4 313.0,761.7 313.5,760.8 314.0,759.7 314.5,758.3 315.0,756.7 315.5,754.7 315.9,752.5 316.4,750.1 316.9,747.4 317.4,744.5 317.9,741.4 318.4,738.2 318.9,735.0 319.4,731.7 319.8,728.5 320.3,725.5 320.8,722.6 321.3,720.0 321.8,717.7 322.3,715.7 322.8,714.2 323.3,713.1 323.7,712.5 324.2,712.4 324.7,712.7 325.2,713.2 325.7,713.8 326.2,714.5 326.7,715.4 327.1,716.4 327.6,717.5 328.1,718.8 328.6,720.2 329.1,721.7 329.6,723.3 330.1,725.0 330.6,726.9 331.0,728.8 331.5,730.8 332.0,732.9 332.5,735.1 333.0,737.4 333.5,739.7 334.0,742.2 334.5,744.6 334.9,747.2 335.4,749.7 335.9,752.3 336.4,755.0 336.9,757.6 337.4,760.3 337.9,763.0 338.4,765.7 338.8,768.4 339.3,771.1 339.8,773.8 340.3,776.4 340.8,779.0 341.3,781.6 341.8,784.1 342.3,786.6 342.7,789.0 343.2,791.4 343.7,793.6 344.2,795.8 344.7,797.9 345.2,800.0 345.7,801.9 346.1,803.7 346.6,805.4 347.1,807.1 347.6,808.6 348.1,809.9 348.6,811.2 349.1,812.3 349.6,813.4 350.0,814.2 350.5,815.0 351.0,815.6 351.5,816.1 352.0,816.4 352.5,816.6 353.0,816.6 353.5,816.6 353.9,816.3 354.4,816.0 354.9,815.5 355.4,814.9 355.9,814.1 356.4,813.2 356.9,812.2 357.4,811.0 357.8,809.7 358.3,808.3 358.8,806.8 359.3,805.2 359.8,803.4 360.3,801.6 360.8,799.6 361.2,797.6 361.7,795.5 362.2,793.3 362.7,791.0 363.2,788.6 363.7,786.2 364.2,783.7 364.7,781.2 365.1,778.6 365.6,776.0 366.1,773.5 366.6,771.4 367.1,769.6 367.6,768.2 368.1,767.0 368.6,766.0 369.0,765.3 369.5,764.7 370.0,764.2 370.5,763.8 371.0,763.3 371.5,762.8 372.0,762.2 372.5,761.4 372.9,760.5 373.4,759.3 373.9,757.8 374.4,756.0 374.9,754.0 375.4,751.7 375.9,749.2 376.4,746.4 376.8,743.5 377.3,740.4 377.8,737.1 378.3,733.9 378.8,730.7 379.3,727.5 379.8,724.5 380.2,721.7 380.7,719.2 381.2,717.0 381.7,715.2 382.2,713.8 382.7,712.8 383.2,712.4 383.7,712.5 384.1,712.8 384.6,713.4 385.1,714.0 385.6,714.8 386.1,715.7 386.6,716.8 387.1,718.0 387.6,719.3 388.0,720.7 388.5,722.2 389.0,723.9 389.5,725.6 390.0,727.5 390.5,729.5 391.0,731.5 391.5,733.6 391.9,735.9 392.4,738.2 392.9,740.5 393.4,743.0 393.9,745.5 394.4,748.0 394.9,750.6 395.4,753.2 395.8,755.9 396.3,758.5 396.8,761.2 397.3,763.9 397.8,766.6 398.3,769.3 398.8,772.0 399.2,774.7 399.7,777.3 400.2,779.9 400.7,782.4 401.2,784.9 401.7,787.4 402.2,789.8 402.7,792.1 403.1,794.4 403.6,796.5 404.1,798.6 404.6,800.6 405.1,802.5 405.6,804.3 406.1,806.0 406.6,807.6 407.0,809.0 407.5,810.4 408.0,811.6 408.5,812.7 409.0,813.7 409.5,814.5 410.0,815.2 410.5,815.8 410.9,816.2 411.4,816.5 411.9,816.6 412.4,816.6 412.9,816.5 413.4,816.2 413.9,815.8 414.3,815.3 414.8,814.6 415.3,813.8 415.8,812.9 416.3,811.8 416.8,810.6 417.3,809.3 417.8,807.8 418.2,806.3 418.7,804.6 419.2,802.8 419.7,800.9 420.2,799.0 420.7,796.9 421.2,794.7 421.7,792.5 422.1,790.2 422.6,787.8 423.1,785.4 423.6,782.9 424.1,780.3 424.6,777.7 425.1,775.1 425.6,772.8 426.0,770.8 426.5,769.1 427.0,767.7 427.5,766.6 428.0,765.8 428.5,765.1 429.0,764.5 429.5,764.1 429.9,763.6 430.4,763.2 430.9,762.6 431.4,762.0 431.9,761.1 432.4,760.1 432.9,758.8 433.3,757.2 433.8,755.4 434.3,753.3 434.8,750.9 435.3,748.3 435.8,745.5 436.3,742.5 436.8,739.3 437.2,736.1 437.7,732.8 438.2,729.6 438.7,726.5 439.2,723.5 439.7,720.8 440.2,718.4 440.7,716.3 441.1,714.6 441.6,713.4 442.1,712.6 442.6,712.4 443.1,712.6 443.6,713.0 444.1,713.6 444.6,714.3 445.0,715.1 445.5,716.1 446.0,717.2 446.5,718.4 447.0,719.7 447.5,721.2 448.0,722.8 448.4,724.4 448.9,726.2 449.4,728.1 449.9,730.1 450.4,732.2 450.9,734.4 451.4,736.6 451.9,739.0 452.3,741.3 452.8,743.8 453.3,746.3 453.8,748.9 454.3,751.5 454.8,754.1 455.3,756.8 455.8,759.4 456.2,762.1 456.7,764.8 457.2,767.5 457.7,770.2 458.2,772.9 458.7,775.5 459.2,778.2 459.7,780.7 460.1,783.3 460.6,785.8 461.1,788.2 461.6,790.6 462.1,792.9 462.6,795.1 463.1,797.2 463.6,799.3 464.0,801.3 464.5,803.1 465.0,804.9 465.5,806.5 466.0,808.1 466.5,809.5 467.0,810.8 467.4,812.0 467.9,813.0 468.4,814.0 468.9,814.7 469.4,815.4 469.9,815.9 470.4,816.3 470.9,816.5 471.3,816.6 471.8,816.6 472.3,816.4 472.8,816.1 473.3,815.7 473.8,815.1 474.3,814.4 474.8,813.5 475.2,812.5 475.7,811.4 476.2,810.2 476.7,808.8 477.2,807.3 477.7,805.7 478.2,804.0 478.7,802.2 479.1,800.3 479.6,798.3 480.1,796.2 480.6,794.0 481.1,791.7 481.6,789.4 482.1,787.0 482.5,784.5 483.0,782.0 483.5,779.5 484.0,776.9 484.5,774.3 485.0,772.1 485.5,770.2 486.0,768.6 486.4,767.3 486.9,766.3 487.4,765.5 487.9,764.9 488.4,764.4 488.9,763.9 489.4,763.5 489.9,763.0 490.3,762.4 490.8,761.7 491.3,760.8 491.8,759.7 492.3,758.3 492.8,756.7 493.3,754.7 493.8,752.5 494.2,750.1 494.7,747.4 495.2,744.5 495.7,741.4 496.2,738.2 496.7,735.0 497.2,731.7 497.7,728.5 498.1,725.5 498.6,722.6 499.1,720.0 499.6,717.7 500.1,715.7 500.6,714.2 501.1,713.1 501.5,712.5 502.0,712.4 502.5,712.7 503.0,713.2 503.5,713.8 504.0,714.5 504.5,715.4 505.0,716.4 505.4,717.5 505.9,718.8 506.4,720.2 506.9,721.7 507.4,723.3 507.9,725.0 508.4,726.9 508.9,728.8 509.3,730.8 509.8,732.9 510.3,735.1 510.8,737.4 511.3,739.7 511.8,742.2 512.3,744.6 512.8,747.2 513.2,749.7 513.7,752.3 514.2,755.0 514.7,757.6 515.2,760.3 515.7,763.0 516.2,765.7 516.7,768.4 517.1,771.1 517.6,773.8 518.1,776.4 518.6,779.0 519.1,781.6 519.6,784.1 520.1,786.6 520.5,789.0 521.0,791.4 521.5,793.6 522.0,795.8 522.5,797.9 523.0,800.0 523.5,801.9 524.0,803.7 524.4,805.4 524.9,807.1 525.4,808.6 525.9,809.9 526.4,811.2 526.9,812.3 527.4,813.4 527.9,814.2 528.3,815.0 528.8,815.6 529.3,816.1 529.8,816.4 530.3,816.6 530.8,816.6 531.3,816.6 531.8,816.3 532.2,816.0 532.7,815.5 533.2,814.9 533.7,814.1 534.2,813.2 534.7,812.2 535.2,811.0 535.6,809.7 536.1,808.3 536.6,806.8 537.1,805.2 537.6,803.4 538.1,801.6 538.6,799.6 539.1,797.6 539.5,795.5 540.0,793.3 540.5,791.0 541.0,788.6 541.5,786.2 542.0,783.7 542.5,781.2 543.0,778.6 543.4,776.0 543.9,773.5 544.4,771.4 544.9,769.6 545.4,768.2 545.9,767.0 546.4,766.0 546.9,765.3 547.3,764.7 547.8,764.2 548.3,763.8 548.8,763.3 549.3,762.8 549.8,762.2 550.3,761.4 550.8,760.5 551.2,759.3 551.7,757.8 552.2,756.0 552.7,754.0 553.2,751.7 553.7,749.2 554.2,746.4 554.6,743.5 555.1,740.4 555.6,737.1 556.1,733.9 556.6,730.7 557.1,727.5 557.6,724.5 558.1,721.7 558.5,719.2 559.0,717.0 559.5,715.2 560.0,713.8 560.5,712.8 561.0,712.4 561.5,712.5 562.0,712.8 562.4,713.4 562.9,714.0 563.4,714.8 563.9,715.7 564.4,716.8 564.9,718.0 565.4,719.3 565.9,720.7 566.3,722.2 566.8,723.9 567.3,725.6 567.8,727.5 568.3,729.5 568.8,731.5 569.3,733.6 569.7,735.9 570.2,738.2 570.7,740.5 571.2,743.0 571.7,745.5 572.2,748.0 572.7,750.6 573.2,753.2 573.6,755.9 574.1,758.5 574.6,761.2 575.1,763.9 575.6,766.6 576.1,769.3 576.6,772.0 577.1,774.7 577.5,777.3 578.0,779.9 578.5,782.4 579.0,784.9 579.5,787.4 580.0,789.8 580.5,792.1 581.0,794.4 581.4,796.5 581.9,798.6 582.4,800.6 582.9,802.5 583.4,804.3 583.9,806.0 584.4,807.6 584.9,809.0 585.3,810.4 585.8,811.6 586.3,812.7 586.8,813.7 587.3,814.5 587.8,815.2 588.3,815.8 588.7,816.2 589.2,816.5 589.7,816.6 590.2,816.6 590.7,816.5 591.2,816.2 591.7,815.8 592.2,815.3 592.6,814.6 593.1,813.8 593.6,812.9 594.1,811.8 594.6,810.6 595.1,809.3 595.6,807.8 596.1,806.3 596.5,804.6 597.0,802.8 597.5,800.9 598.0,799.0 598.5,796.9 599.0,794.7 599.5,792.5 600.0,790.2 600.4,787.8 600.9,785.4 601.4,782.9 601.9,780.3 602.4,777.7 602.9,775.1 603.4,772.8 603.9,770.8 604.3,769.1 604.8,767.7 605.3,766.6 605.8,765.8 606.3,765.1 606.8,764.5 607.3,764.1 607.7,763.6 608.2,763.2 608.7,762.6 609.2,762.0 609.7,761.1 610.2,760.1 610.7,758.8 611.2,757.2 611.6,755.4 612.1,753.3 612.6,750.9 613.1,748.3 613.6,745.5 614.1,742.5 614.6,739.3 615.1,736.1 615.5,732.8 616.0,729.6 616.5,726.5 617.0,723.5 617.5,720.8 618.0,718.4 618.5,716.3 619.0,714.6 619.4,713.4 619.9,712.6 620.4,712.4 620.9,712.6 621.4,713.0 621.9,713.6 622.4,714.3 622.8,715.1 623.3,716.1 623.8,717.2 624.3,718.4 624.8,719.7 625.3,721.2 625.8,722.8 626.3,724.4 626.7,726.2 627.2,728.1 627.7,730.1 628.2,732.2 628.7,734.4 629.2,736.6 629.7,739.0 630.2,741.3 630.6,743.8 631.1,746.3 631.6,748.9 632.1,751.5 632.6,754.1 633.1,756.8 633.6,759.4 634.1,762.1 634.5,764.8 635.0,767.5 635.5,770.2 636.0,772.9 636.5,775.5 637.0,778.2 637.5,780.7 638.0,783.3 638.4,785.8 638.9,788.2 639.4,790.6 639.9,792.9 640.4,795.1 640.9,797.2 641.4,799.3 641.8,801.3 642.3,803.1 642.8,804.9 643.3,806.5 643.8,808.1 644.3,809.5 644.8,810.8 645.3,812.0 645.7,813.0 646.2,814.0 646.7,814.7 647.2,815.4 647.7,815.9 648.2,816.3 648.7,816.5 649.2,816.6 649.6,816.6 650.1,816.4 650.6,816.1 651.1,815.7 651.6,815.1 652.1,814.4 652.6,813.5 653.1,812.5 653.5,811.4 654.0,810.2 654.5,808.8 655.0,807.3 655.5,805.7 656.0,804.0 656.5,802.2 656.9,800.3 657.4,798.3 657.9,796.2 658.4,794.0 658.9,791.7 659.4,789.4 659.9,787.0 660.4,784.5 660.8,782.0 661.3,779.5 661.8,776.9 662.3,774.3 662.8,772.1 663.3,770.2 663.8,768.6 664.3,767.3 664.7,766.3 665.2,765.5 665.7,764.9 666.2,764.4 666.7,763.9 667.2,763.5 667.7,763.0 668.2,762.4 668.6,761.7 669.1,760.8 669.6,759.7 670.1,758.3 670.6,756.7 671.1,754.7 671.6,752.5 672.1,750.1 672.5,747.4 673.0,744.5 673.5,741.4 674.0,738.2 674.5,735.0 675.0,731.7 675.5,728.5 675.9,725.5 676.4,722.6 676.9,720.0 677.4,717.7 677.9,715.7 678.4,714.2 678.9,713.1 679.4,712.5 679.8,712.4 680.3,712.7 680.8,713.2 681.3,713.8 681.8,714.5 682.3,715.4 682.8,716.4 683.3,717.5 683.7,718.8 684.2,720.2 684.7,721.7 685.2,723.3 685.7,725.0 686.2,726.9 686.7,728.8 687.2,730.8 687.6,732.9 688.1,735.1 688.6,737.4 689.1,739.7 689.6,742.2 690.1,744.6 690.6,747.2 691.1,749.7 691.5,752.3 692.0,755.0 692.5,757.6 693.0,760.3 693.5,763.0 694.0,765.7 694.5,768.4 694.9,771.1 695.4,773.8 695.9,776.4 696.4,779.0 696.9,781.6 697.4,784.1 697.9,786.6 698.4,789.0 698.8,791.4 699.3,793.6 699.8,795.8 700.3,797.9 700.8,800.0 701.3,801.9 701.8,803.7 702.3,805.4 702.7,807.1 703.2,808.6 703.7,809.9 704.2,811.2 704.7,812.3 705.2,813.4 705.7,814.2 706.2,815.0 706.6,815.6 707.1,816.1 707.6,816.4 708.1,816.6 708.6,816.6 709.1,816.6 709.6,816.3 710.0,816.0 710.5,815.5 711.0,814.9 711.5,814.1 712.0,813.2 712.5,812.2 713.0,811.0 713.5,809.7 713.9,808.3 714.4,806.8 714.9,805.2 715.4,803.4 715.9,801.6 716.4,799.6 716.9,797.6 717.4,795.5 717.8,793.3 718.3,791.0 718.8,788.6 719.3,786.2 719.8,783.7 720.3,781.2 720.8,778.6 721.3,776.0 721.7,773.5 722.2,771.4 722.7,769.6 723.2,768.2 723.7,767.0 724.2,766.0 724.7,765.3 725.2,764.7 725.6,764.2 726.1,763.8 726.6,763.3 727.1,762.8 727.6,762.2 728.1,761.4 728.6,760.5 729.0,759.3 729.5,757.8 730.0,756.0 730.5,754.0 731.0,751.7 731.5,749.2 732.0,746.4 732.5,743.5 732.9,740.4 733.4,737.1 733.9,733.9 734.4,730.7 734.9,727.5 735.4,724.5 735.9,721.7 736.4,719.2 736.8,717.0 737.3,715.2 737.8,713.8 738.3,712.8 738.8,712.4 739.3,712.5 739.8,712.8 740.3,713.4 740.7,714.0 741.2,714.8 741.7,715.7 742.2,716.8 742.7,718.0 743.2,719.3 743.7,720.7 744.1,722.2 744.6,723.9 745.1,725.6 745.6,727.5 746.1,729.5 746.6,731.5 747.1,733.6 747.6,735.9 748.0,738.2 748.5,740.5 749.0,743.0 749.5,745.5 750.0,748.0 750.5,750.6 751.0,753.2 751.5,755.9 751.9,758.5 752.4,761.2 752.9,763.9 753.4,766.6 753.9,769.3 754.4,772.0 754.9,774.7 755.4,777.3 755.8,779.9 756.3,782.4 756.8,784.9 757.3,787.4 757.8,789.8 758.3,792.1 758.8,794.4 759.3,796.5 759.7,798.6 760.2,800.6 760.7,802.5 761.2,804.3 761.7,806.0 762.2,807.6 762.7,809.0 763.1,810.4 763.6,811.6 764.1,812.7 764.6,813.7 765.1,814.5 765.6,815.2 766.1,815.8 766.6,816.2 767.0,816.5 767.5,816.6 768.0,816.6 768.5,816.5 769.0,816.2 769.5,815.8 770.0,815.3 770.5,814.6 770.9,813.8 771.4,812.9 771.9,811.8 772.4,810.6 772.9,809.3 773.4,807.8 773.9,806.3 774.4,804.6 774.8,802.8 775.3,800.9 775.8,799.0 776.3,796.9 776.8,794.7 777.3,792.5 777.8,790.2 778.3,787.8 778.7,785.4 779.2,782.9 779.7,780.3 780.2,777.7 780.7,775.1 781.2,772.8 781.7,770.8 782.1,769.1 782.6,767.7 783.1,766.6 783.6,765.8 784.1,765.1 784.6,764.5 785.1,764.1 785.6,763.6 786.0,763.2 786.5,762.6 787.0,762.0 787.5,761.1 788.0,760.1 788.5,758.8 789.0,757.2 789.5,755.4 789.9,753.3 790.4,750.9 790.9,748.3 791.4,745.5 791.9,742.5 792.4,739.3 792.9,736.1 793.4,732.8 793.8,729.6 794.3,726.5 794.8,723.5 795.3,720.8 795.8,718.4 796.3,716.3 796.8,714.6 797.2,713.4 797.7,712.6 798.2,712.4 798.7,712.6 799.2,713.0 799.7,713.6 800.2,714.3 800.7,715.1 801.1,716.1 801.6,717.2 802.1,718.4 802.6,719.7 803.1,721.2 803.6,722.8 804.1,724.4 804.6,726.2 805.0,728.1 805.5,730.1 806.0,732.2 806.5,734.4 807.0,736.6 807.5,739.0 808.0,741.3 808.5,743.8 808.9,746.3 809.4,748.9 809.9,751.5 810.4,754.1 810.9,756.8 811.4,759.4 811.9,762.1 812.4,764.8 812.8,767.5 813.3,770.2 813.8,772.9 814.3,775.5 814.8,778.2 815.3,780.7 815.8,783.3 816.2,785.8 816.7,788.2 817.2,790.6 817.7,792.9 818.2,795.1 818.7,797.2 819.2,799.3 819.7,801.3 820.1,803.1 820.6,804.9 821.1,806.5 821.6,808.1 822.1,809.5 822.6,810.8 823.1,812.0 823.6,813.0 824.0,814.0 824.5,814.7 825.0,815.4 825.5,815.9 826.0,816.3 826.5,816.5 827.0,816.6 827.5,816.6 827.9,816.4 828.4,816.1 828.9,815.7 829.4,815.1 829.9,814.4 830.4,813.5 830.9,812.5 831.3,811.4 831.8,810.2 832.3,808.8 832.8,807.3 833.3,805.7 833.8,804.0 834.3,802.2 834.8,800.3 835.2,798.3 835.7,796.2 836.2,794.0 836.7,791.7 837.2,789.4 837.7,787.0 838.2,784.5 838.7,782.0 839.1,779.5 839.6,776.9 840.1,774.3 840.6,772.1 841.1,770.2 841.6,768.6 842.1,767.3 842.6,766.3 843.0,765.5 843.5,764.9 844.0,764.4 844.5,763.9 845.0,763.5 845.5,763.0 846.0,762.4 846.5,761.7 846.9,760.8 847.4,759.7 847.9,758.3 848.4,756.7 848.9,754.7 849.4,752.5 849.9,750.1 850.3,747.4 850.8,744.5 851.3,741.4 851.8,738.2 852.3,735.0 852.8,731.7 853.3,728.5 853.8,725.5 854.2,722.6 854.7,720.0 855.2,717.7 855.7,715.7 856.2,714.2 856.7,713.1 857.2,712.5 857.7,712.4 858.1,712.7 858.6,713.2 859.1,713.8 859.6,714.5 860.1,715.4 860.6,716.4 861.1,717.5 861.6,718.8 862.0,720.2 862.5,721.7 863.0,723.3 863.5,725.0 864.0,726.9 864.5,728.8 865.0,730.8 865.5,732.9 865.9,735.1 866.4,737.4 866.9,739.7 867.4,742.2 867.9,744.6 868.4,747.2 868.9,749.7 869.3,752.3 869.8,755.0 870.3,757.6 870.8,760.3 871.3,763.0 871.8,765.7 872.3,768.4 872.8,771.1 873.2,773.8 873.7,776.4 874.2,779.0 874.7,781.6 875.2,784.1 875.7,786.6 876.2,789.0 876.7,791.4 877.1,793.6 877.6,795.8 878.1,797.9 878.6,800.0 879.1,801.9 879.6,803.7 880.1,805.4 880.6,807.1 881.0,808.6 881.5,809.9 882.0,811.2 882.5,812.3 883.0,813.4 883.5,814.2 884.0,815.0 884.4,815.6 884.9,816.1 885.4,816.4 885.9,816.6 886.4,816.6 886.9,816.6 887.4,816.3 887.9,816.0 888.3,815.5 888.8,814.9 889.3,814.1 889.8,813.2 890.3,812.2 890.8,811.0 891.3,809.7 891.8,808.3 892.2,806.8 892.7,805.2 893.2,803.4 893.7,801.6 894.2,799.6 894.7,797.6 895.2,795.5 895.7,793.3 896.1,791.0 896.6,788.6 897.1,786.2 897.6,783.7 898.1,781.2 898.6,778.6 899.1,776.0 899.6,773.5 900.0,771.4 900.5,769.6 901.0,768.2 901.5,767.0 902.0,766.0 902.5,765.3 903.0,764.7 903.4,764.2 903.9,763.8 904.4,763.3 904.9,762.8 905.4,762.2 905.9,761.4 906.4,760.5 906.9,759.3 907.3,757.8 907.8,756.0 908.3,754.0 908.8,751.7 909.3,749.2 909.8,746.4 910.3,743.5 910.8,740.4 911.2,737.1 911.7,733.9 912.2,730.7 912.7,727.5 913.2,724.5 913.7,721.7 914.2,719.2 914.7,717.0 915.1,715.2 915.6,713.8 916.1,712.8 916.6,712.4 917.1,712.5 917.6,712.8 918.1,713.4 918.5,714.0 919.0,714.8 919.5,715.7 920.0,716.8 920.5,718.0 921.0,719.3 921.5,720.7 922.0,722.2 922.4,723.9 922.9,725.6 923.4,727.5 923.9,729.5 924.4,731.5 924.9,733.6 925.4,735.9 925.9,738.2 926.3,740.5 926.8,743.0 927.3,745.5 927.8,748.0 928.3,750.6 928.8,753.2 929.3,755.9 929.8,758.5 930.2,761.2 930.7,763.9 931.2,766.6 931.7,769.3 932.2,772.0 932.7,774.7 933.2,777.3 933.7,779.9 934.1,782.4 934.6,784.9 935.1,787.4 935.6,789.8 936.1,792.1 936.6,794.4 937.1,796.5 937.5,798.6 938.0,800.6 938.5,802.5 939.0,804.3 939.5,806.0 940.0,807.6 940.5,809.0 941.0,810.4 941.4,811.6 941.9,812.7 942.4,813.7 942.9,814.5 943.4,815.2 943.9,815.8 944.4,816.2 944.9,816.5 945.3,816.6 945.8,816.6 946.3,816.5 946.8,816.2 947.3,815.8 947.8,815.3 948.3,814.6 948.8,813.8 949.2,812.9 949.7,811.8 950.2,810.6 950.7,809.3 951.2,807.8 951.7,806.3 952.2,804.6 952.7,802.8 953.1,800.9 953.6,799.0 954.1,796.9 954.6,794.7 955.1,792.5 955.6,790.2 956.1,787.8 956.5,785.4 957.0,782.9 957.5,780.3 958.0,777.7 958.5,775.1 959.0,772.8 959.5,770.8 960.0,769.1 960.4,767.7 960.9,766.6 961.4,765.8 961.9,765.1 962.4,764.5 962.9,764.1 963.4,763.6 963.9,763.2 964.3,762.6 964.8,762.0 965.3,761.1 965.8,760.1 966.3,758.8 966.8,757.2 967.3,755.4 967.8,753.3 968.2,750.9 968.7,748.3 969.2,745.5 969.7,742.5 970.2,739.3 970.7,736.1 971.2,732.8 971.6,729.6 972.1,726.5 972.6,723.5 973.1,720.8 973.6,718.4 974.1,716.3 974.6,714.6 975.1,713.4 975.5,712.6 976.0,712.4 976.5,712.6 977.0,713.0 977.5,713.6 978.0,714.3 978.5,715.1 979.0,716.1 979.4,717.2 979.9,718.4 980.4,719.7 980.9,721.2 981.4,722.8 981.9,724.4 982.4,726.2 982.9,728.1 983.3,730.1 983.8,732.2 984.3,734.4 984.8,736.6 985.3,739.0 985.8,741.3 986.3,743.8 986.8,746.3 987.2,748.9 987.7,751.5" fill="none" stroke="#0000FF" stroke-width="3.9" stroke-linejoin="round" stroke-linecap="round" shape-rendering="crispEdges"/>
<g shape-rendering="crispEdges">
<line x1="98.5" y1="924" x2="98.5" y2="898.5338231632165" stroke="#000" stroke-width="1" />
<line x1="158.5" y1="924" x2="158.5" y2="898.5338231632165" stroke="#000" stroke-width="1" />
</g>
<polyline points="98.4,898.5 99.2,899.3 100.0,900.0 100.9,900.8 101.7,901.6 102.5,902.4 103.3,903.1 104.2,903.9 105.0,904.7 105.8,905.4 106.6,906.1 107.5,906.8 108.3,907.4 109.1,908.0 109.9,908.5 110.8,909.0 111.6,909.5 112.4,909.8 113.2,910.2 114.1,910.4 114.9,910.6 115.7,910.8 116.5,910.8 117.4,910.8 118.2,910.8 119.0,910.6 119.8,910.4 120.7,910.2 121.5,909.8 122.3,909.5 123.1,909.0 124.0,908.5 124.8,908.0 125.6,907.4 126.4,906.8 127.3,906.1 128.1,905.4 128.9,904.7 129.7,903.9 130.6,903.1 131.4,902.4 132.2,901.6 133.0,900.8 133.9,900.0 134.7,899.3 135.5,898.5 136.3,897.8 137.2,897.1 138.0,896.5 138.8,895.9 139.6,895.3 140.5,894.8 141.3,894.3 142.1,893.9 142.9,893.5 143.8,893.2 144.6,893.0 145.4,892.8 146.2,892.7 147.1,892.7 147.9,892.7 148.7,892.8 149.5,893.0 150.4,893.2 151.2,893.5 152.0,893.9 152.8,894.3 153.7,894.8 154.5,895.3 155.3,895.9 156.1,896.5 157.0,897.1 157.8,897.8 158.6,898.5" fill="none" stroke="#0000FF" stroke-width="4.2" stroke-linejoin="round" stroke-linecap="round" shape-rendering="crispEdges"/>
<g fill="none" stroke-width="1" shape-rendering="crispEdges" stroke-linejoin="round">
<path stroke="#000" d="M767.0 78.2 L778.2 83.0 L788.6 84.6 L795.0 85.4 L798.2 85.8 M775.4 107.4 L778.2 108.6 L782.2 109.4 M776.2 110.2 L779.0 110.6 L777.8 111.4 L776.2 111.0 M777.5 114.8 L777.5 121.3 M778.1 114.8 L778.0 121.3 M778.7 114.8 L778.6 121.3 M779.2 114.8 L779.1 121.3 M779.8 114.8 L779.7 121.3 M780.3 114.8 L780.3 121.3 M777.4 114.6 L781.4 114.8 L780.2 118.1 L780.4 121.3 L777.8 121.3 M779.4 125.3 L782.2 126.3 L784.6 124.1 L786.6 125.3 L788.6 124.7 L791.0 126.5 L793.4 126.9 L795.4 128.5 M800.6 66.2 L803.0 68.6 L806.2 70.2 L807.4 73.4 L806.2 75.8 L803.8 76.6 L805.4 79.0 L808.2 80.6 L809.0 83.8 L810.2 86.6 L809.4 90.2 L808.6 92.6 L807.4 96.6 L809.4 99.8 L807.0 101.0 L806.2 103.0 M796.6 72.2 L801.4 71.9 L801.8 73.8 L797.4 74.0 L796.6 72.2 M797.0 72.7 L801.4 72.7 M797.0 73.4 L801.4 73.4 M794.6 73.8 L796.6 75.8 L799.8 76.2 L800.2 77.8 L798.2 78.2 L795.8 76.6 L794.6 75.0 L794.6 73.8 M795.0 74.6 L799.4 77.0 M795.4 75.4 L799.0 77.5 M802.2 79.0 L804.2 78.2 L806.2 80.6 L806.2 83.8 L804.6 85.4 L803.0 83.8 L802.2 81.4 L802.2 79.0 M803.0 79.8 L805.4 83.0 M802.6 82.2 L805.0 84.6 M802.2 85.4 L806.2 85.8 L807.4 88.6 L806.2 91.8 L803.8 92.6 L802.2 90.2 L803.0 87.8 L802.2 85.4 M803.0 86.6 L806.2 90.2 M803.0 89.4 L805.4 91.4 M803.4 85.4 L803.8 92.6 M795.8 85.4 L797.4 86.6 L797.4 90.2 L799.8 90.6 L801.0 92.6 L798.6 93.4 L795.4 97.0 M798.2 85.8 L803.0 84.7 L810.2 86.6 L811.8 87.0 M795.4 97.0 L799.8 93.0 L802.2 94.2 L798.2 97.4 L796.2 99.8 L798.2 103.0 L801.0 105.4 L803.8 103.0 L806.2 103.0 M803.0 93.4 L807.0 95.0 L807.8 98.2 L804.6 97.4 L803.0 95.8 L803.0 93.4 M803.4 94.2 L807.0 97.4 M795.8 103.8 L798.2 106.2 L801.4 107.0 L804.6 105.8 L807.0 103.0 L808.2 101.0 M796.6 104.6 L799.8 107.4 L798.6 105.0 M797.4 99.8 L800.6 102.2 L803.0 101.0 L805.0 98.6 M799.8 103.0 L802.2 104.2 L803.8 101.4 M798.6 66.2 L801.0 67.8 L803.0 71.0 L804.6 72.2 L807.0 71.0 M804.6 96.6 L806.2 99.8 L808.2 98.2 L809.4 95.8 M801.8 138.8 L807.7 140.6 L814.9 137.0 L822.1 136.4 L829.3 137.6 L834.0 138.4 L840.0 135.4 L844.0 137.4 L848.0 135.4 L855.0 132.9 L862.0 131.4 L868.0 130.6 L875.0 130.4 L907.9 130.4 M905.7 65.5 L905.7 123.9 L907.4 126.9 L907.9 130.4 M923.2 65.5 L923.2 86.2 L929.4 94.6 L934.2 101.2 L940.8 107.7 L946.7 115.0 M946.0 115.3 L947.0 115.3 M953.8 122.1 L954.8 122.1 M964.8 139.5 L965.8 139.5 M972.0 156.3 L973.0 156.3 M985.8 162.5 L986.8 162.5 M994.8 161.4 L995.8 161.4 M798.0 217.5 L1015.5 217.5 M851.5 217.5 L851.5 283.0 M907.0 130.4 L911.2 133.4 L914.1 135.8 L913.0 143.0 L911.2 147.8 L908.8 155.0 L905.2 157.4 L902.2 162.2 L901.6 165.8 L904.6 168.2 L907.0 170.0 L906.4 173.0 L905.8 177.1 L905.5 217.3 M1015.5 164.0 L1015.5 217.5 M805.9 301.7 L808.3 300.5 L811.3 301.7 L812.5 303.5 L808.9 302.9 L806.5 304.1 L807.7 307.1 L805.9 308.9 L807.7 311.3 L810.1 313.1 L812.5 314.3 L814.9 315.5 M806.5 305.3 L809.5 307.7 L808.9 310.7 L811.3 311.9 M807.7 308.9 L811.3 310.1 M808.3 302.9 L811.3 303.2 M944.6 364.7 L949.7 369.0 L952.7 373.5 L953.9 378.3 L958.7 383.7 L957.5 386.7 L952.7 389.7 L951.5 396.3 L949.7 401.1 L947.3 405.3 L949.1 410.7 L952.7 412.5 L952.1 416.7 L949.1 418.5"/>
<path stroke="#000" d="M852 283.5h1M853 284.5h1M854 285.5h1M855 286.5h1M856 287.5h1M857 287.5h1M858 288.5h1M859 289.5h1M860 290.5h1M861 291.5h1M862 292.5h1M863 293.5h1M864 294.5h1M865 294.5h1M866 295.5h1M867 296.5h1M868 297.5h1M869 298.5h1M870 299.5h1M871 300.5h1M872 301.5h1M873 302.5h1M874 302.5h1M875 303.5h1M876 304.5h1M877 305.5h1M878 306.5h1M879 307.5h1M880 308.5h1M881 309.5h1M882 309.5h1M883 310.5h1M884 311.5h1M885 312.5h1M886 313.5h1M887 314.5h1M888 315.5h1M889 316.5h1M890 317.5h1M891 317.5h1M892 318.5h1M893 319.5h1M894 320.5h1M895 321.5h1M896 322.5h1M897 323.5h1M898 324.5h1M899 324.5h1M900 325.5h1M901 326.5h1M902 327.5h1M903 328.5h1M904 329.5h1M905 330.5h1M906 331.5h1M907 332.5h1M908 332.5h1M909 333.5h1M910 334.5h1M911 335.5h1M912 336.5h1M913 337.5h1M914 338.5h1M915 339.5h1M916 339.5h1M917 340.5h1M918 341.5h1M919 342.5h1M920 343.5h1M921 344.5h1M922 345.5h1M923 346.5h1M924 347.5h1M925 347.5h1M926 348.5h1M927 349.5h1M928 350.5h1M929 351.5h1M930 352.5h1M931 353.5h1M932 354.5h1M933 355.5h1M934 355.5h1M935 356.5h1M936 357.5h1M937 358.5h1M938 359.5h1M939 360.5h1M940 361.5h1M941 362.5h1M942 362.5h1M943 363.5h1M944 364.5h1M945 365.5h1M946 366.5h1M947 367.5h1M948 368.5h1M949 369.5h1"/>
</g>
<g font-family='"Liberation Sans", sans-serif' font-size="10" text-anchor="middle" letter-spacing="0.4">
<text x="864.7" y="90.7">1702</text>
<text x="838.6" y="119.8">1703</text>
<text x="805.4" y="131.2">1708</text>
<text x="782.2" y="105.6">1710</text>
<text x="805.8" y="91.4">1711</text>
<text x="848.4" y="156.4">1707</text>
<text x="941.8" y="103.5">1701</text>
<text x="922.6" y="143.6">1706</text>
<text x="799.6" y="167.2">1709</text>
<text x="788.0" y="182.5">1710</text>
<text x="859.7" y="203.5">1712</text>
<text x="911.6" y="191.1">1705</text>
<text x="987.6" y="195.7">1704</text>
<text x="800.8" y="246.2">1801</text>
<text x="845.3" y="249.6">1808</text>
<text x="824.7" y="259.5">1802</text>
<text x="810.4" y="313.6">1805</text>
<text x="843.4" y="319.5">1804</text>
<text x="835.0" y="353.4">1806</text>
<text x="863.5" y="351.3">1803</text>
<text x="896.2" y="349.4">1809</text>
<text x="891.9" y="397.4">1807</text>
<text x="925.9" y="394.5">1810</text>
</g>
<g fill="none" stroke-width="1" shape-rendering="crispEdges" stroke-linejoin="round">
<path stroke="#000" d="M767.0 78.2 L765.4 80.6 L765.4 83.4 L766.6 87.4 L769.0 90.2 L771.4 94.6 L772.2 97.4 L774.2 101.4 L775.0 104.6 L775.4 107.4 L776.2 111.0 L777.4 114.6 L777.8 118.9 L778.6 122.1 L779.4 125.3 L779.4 131.7 L779.4 135.0 M779.6 128.6 L779.4 132.8 L779.6 137.0 L779.0 144.2 L778.3 148.5 L777.8 152.6 L777.6 156.4 L777.2 161.0 L777.2 168.2 L775.4 175.3 L774.2 181.3 L771.8 187.3 L770.0 193.3 L768.2 198.7 L770.6 204.1 L770.0 208.9 L772.4 214.9 L774.8 217.9 L774.2 220.9 L776.6 225.7 L777.2 231.7 L776.0 237.7 L773.0 245.0 M774.8 217.3 L779.1 217.6 L783.9 217.1 L789.2 217.3 L793.7 217.3 L798.2 217.3 M777.2 225.0 L777.2 229.8 L775.4 235.8 L773.0 241.8 L770.6 247.8 L771.2 252.6 L774.2 256.8 L778.4 260.4 L781.4 264.6 L782.6 270.0 L782.0 275.3 L783.2 281.3 L785.0 284.9 L789.8 289.7 L794.6 294.5 L797.6 298.1 L798.8 302.9 L803.0 306.5 L806.5 308.9 L807.1 316.1 L807.7 320.9 L811.3 324.5 L816.1 326.9 L817.9 330.5 L816.7 335.3 L817.3 340.1 L819.7 343.7 L822.1 345.0 M806.8 320.0 L811.0 323.6 L817.6 326.6 L818.2 332.0 L815.8 335.6 L817.6 340.4 L821.2 344.0 L824.8 348.8 L828.4 353.6 L832.6 357.8 L836.2 360.2 L836.2 364.4 L840.3 366.2 L840.3 371.5 L839.7 377.5 L842.7 379.9 L849.9 380.5 L855.1 380.9 L860.1 381.7 L864.3 385.3 L867.9 388.9 L873.9 389.5 L878.7 390.7 L881.7 396.7 L885.9 396.7 L889.5 399.1 L894.3 402.7 L898.5 406.3 L901.5 411.1 L902.7 417.1 L904.5 419.5 L905.1 421.9 M949.1 418.5 L945.2 419.1 L941.1 419.3 L937.2 419.1 L933.2 419.9 L928.8 419.7 L925.2 420.4 L921.1 421.1 L917.0 421.4 L912.7 421.7 L908.8 422.1 L904.8 422.1"/>
<path stroke="#BEBEBE" stroke-width="1.15" stroke-dasharray="4.5 1.8" d="M767.0 78.2 L765.4 80.6 L765.4 83.4 L766.6 87.4 L769.0 90.2 L771.4 94.6 L772.2 97.4 L774.2 101.4 L775.0 104.6 L775.4 107.4 L776.2 111.0 L777.4 114.6 L777.8 118.9 L778.6 122.1 L779.4 125.3 L779.4 131.7 L779.4 135.0 M779.6 128.6 L779.4 132.8 L779.6 137.0 L779.0 144.2 L778.3 148.5 L777.8 152.6 L777.6 156.4 L777.2 161.0 L777.2 168.2 L775.4 175.3 L774.2 181.3 L771.8 187.3 L770.0 193.3 L768.2 198.7 L770.6 204.1 L770.0 208.9 L772.4 214.9 L774.8 217.9 L774.2 220.9 L776.6 225.7 L777.2 231.7 L776.0 237.7 L773.0 245.0 M774.8 217.3 L779.1 217.6 L783.9 217.1 L789.2 217.3 L793.7 217.3 L798.2 217.3 M777.2 225.0 L777.2 229.8 L775.4 235.8 L773.0 241.8 L770.6 247.8 L771.2 252.6 L774.2 256.8 L778.4 260.4 L781.4 264.6 L782.6 270.0 L782.0 275.3 L783.2 281.3 L785.0 284.9 L789.8 289.7 L794.6 294.5 L797.6 298.1 L798.8 302.9 L803.0 306.5 L806.5 308.9 L807.1 316.1 L807.7 320.9 L811.3 324.5 L816.1 326.9 L817.9 330.5 L816.7 335.3 L817.3 340.1 L819.7 343.7 L822.1 345.0 M806.8 320.0 L811.0 323.6 L817.6 326.6 L818.2 332.0 L815.8 335.6 L817.6 340.4 L821.2 344.0 L824.8 348.8 L828.4 353.6 L832.6 357.8 L836.2 360.2 L836.2 364.4 L840.3 366.2 L840.3 371.5 L839.7 377.5 L842.7 379.9 L849.9 380.5 L855.1 380.9 L860.1 381.7 L864.3 385.3 L867.9 388.9 L873.9 389.5 L878.7 390.7 L881.7 396.7 L885.9 396.7 L889.5 399.1 L894.3 402.7 L898.5 406.3 L901.5 411.1 L902.7 417.1 L904.5 419.5 L905.1 421.9 M949.1 418.5 L945.2 419.1 L941.1 419.3 L937.2 419.1 L933.2 419.9 L928.8 419.7 L925.2 420.4 L921.1 421.1 L917.0 421.4 L912.7 421.7 L908.8 422.1 L904.8 422.1"/>
<path stroke="#BEBEBE" stroke-width="1.35" d="M790.2 65.4 L793.4 67.0 L795.8 69.0 L795.0 71.0 L792.2 71.8 L791.4 74.2 L793.0 76.6 L794.2 78.2 L792.6 79.8 L790.2 80.6 L788.6 81.8 L785.4 81.8 L781.4 80.6 L777.4 79.4 L774.2 78.2 L771.0 77.4 L767.8 76.6 L764.6 76.6 L764.2 78.6 L765.4 82.2 L765.0 84.6 M767.0 79.0 L769.0 82.6 L771.8 84.2 L775.8 83.8 L779.0 84.6 L781.4 86.6 L783.0 88.6 L785.4 91.8 L787.8 94.2 L789.4 93.4 L788.6 95.8 L786.6 97.4 L787.8 99.8 L790.2 103.0 L792.4 103.9 L793.4 106.2 L795.2 107.3 L798.2 109.4 L801.3 110.9 L803.0 112.6 L806.2 114.6 L809.4 116.2 L812.6 117.0 L815.8 116.2 L817.6 114.0 L818.9 112.6 L822.9 111.4 M806.2 114.6 L803.0 117.0 L800.6 117.4 L798.2 118.1 L795.5 118.7 L793.4 118.9 L790.2 119.7 L787.0 121.3 L783.0 122.9 L779.8 124.5 L779.0 125.7 M829.9 94.8 L828.2 97.9 L826.1 99.8 L824.5 102.2 L826.5 104.6 L825.3 107.8 L822.9 111.4 L824.5 114.2 L825.3 117.4 L824.1 121.3 L823.0 124.0 L821.3 125.3 L818.1 127.7 L816.6 130.9 L815.9 133.8 L814.2 135.0 M790.2 65.5 L960.7 65.5 M837.5 66.0 L838.0 70.0 L839.0 71.5 L837.0 74.0 L835.0 74.7 L832.5 76.5 L831.5 79.5 L834.0 82.5 L832.0 85.0 L829.5 88.0 L831.1 90.7 L831.5 92.0 L830.5 95.0 L829.9 99.0 M830.5 95.0 L833.4 97.1 L835.0 99.0 L838.3 99.5 L841.0 101.0 L844.0 102.6 L846.0 104.0 L847.5 106.9 L847.0 110.9 L848.0 114.9 L850.6 115.0 L854.0 116.4 L857.5 118.2 L860.0 118.4 L861.3 120.7 L864.0 121.9 L864.3 123.5 L864.6 126.7 L865.5 128.4 M823.0 122.9 L826.6 121.2 L829.0 120.9 L830.2 122.2 L831.0 124.9 L833.3 125.7 L835.0 126.9 L836.0 129.9 L839.6 130.4 L842.0 129.4 L844.3 129.4 L846.3 127.1 L849.0 126.9 L851.8 125.5 L853.8 125.4 L857.0 124.9 L861.0 125.9 L863.4 126.6 L865.5 128.4 M865.5 128.4 L866.5 126.8 L869.0 123.9 L869.5 119.9 L873.0 117.9 L875.7 117.7 L878.9 115.9 L882.1 114.2 L883.9 112.9 L880.9 110.9 L881.4 106.9 L883.9 104.0 L885.9 101.7 L887.9 99.5 L890.3 98.8 L892.4 98.0 L894.4 97.0 M894.4 97.0 L890.9 95.5 L888.9 93.5 L884.9 92.0 L883.9 90.5 L881.4 89.0 L883.1 87.8 L884.9 86.0 L887.0 84.9 L889.9 84.5 L893.7 84.3 L895.9 84.0 L896.9 80.0 L895.4 78.0 L896.0 74.7 L896.4 73.0 L897.4 69.0 L898.4 66.0 M894.4 97.0 L896.5 98.1 L898.9 99.0 L899.9 100.6 L902.4 102.0 L905.4 104.5 L907.9 106.9 L910.6 106.2 L912.9 106.9 L915.6 108.1 L917.9 109.4 L919.7 110.1 M869.0 123.9 L872.2 123.7 L875.0 123.9 L877.3 122.8 L878.9 120.9 L881.9 119.4 L884.9 121.4 L886.7 120.7 L889.9 121.4 L892.2 123.2 L893.9 123.4 L892.0 125.1 L890.9 126.9 L888.9 130.4 L887.4 133.9 L884.9 135.9 L885.9 139.9 L884.1 141.1 L881.9 142.9 L878.7 143.1 L875.9 143.9 L875.0 146.4 L877.9 148.9 L877.9 151.9 L880.2 152.3 L882.9 152.4 M960.6 65.8 L963.0 68.8 L966.5 70.6 L967.7 74.2 L969.5 74.9 L971.9 76.0 L973.3 77.3 L973.7 80.2 L975.6 82.0 L977.3 83.2 L978.8 84.5 L980.9 86.8 L977.9 89.8 L977.8 91.7 L976.7 94.6 L977.1 96.6 L978.5 98.8 L981.2 99.6 L983.3 101.8 L985.4 102.4 L988.1 103.5 L990.8 105.5 L992.3 107.7 L989.3 110.7 L988.7 114.3 L991.1 115.3 L992.3 117.3 L991.7 120.9 L989.4 123.0 L987.5 124.5 L989.3 126.8 L989.9 129.3 L989.3 133.5 L985.7 131.7 L982.1 129.9 L978.7 128.4 L976.1 128.1 L973.5 128.8 L970.7 130.5 L969.1 132.6 L966.5 133.5 L963.9 134.7 L962.4 136.5 M919.8 110.1 L922.7 108.9 L924.6 107.1 L927.5 106.0 L929.4 105.3 L931.2 105.6 L934.2 106.5 L936.6 108.9 L940.8 108.3 L942.7 110.1 L943.8 112.5 L945.6 113.6 L948.0 114.9 L952.2 116.1 L955.2 116.1 L954.4 119.0 L954.0 122.1 L953.4 124.0 L951.6 126.9 L951.7 130.0 L953.4 131.7 L952.8 135.5 L951.0 137.7 L952.7 140.5 L954.6 141.9 L958.2 139.5 L960.9 137.6 L962.4 136.5 M962.4 136.5 L964.2 139.5 L965.3 141.3 L966.5 145.5 L968.6 147.9 L970.1 150.3 L970.4 152.4 L971.3 155.1 L973.3 155.3 L976.1 156.9 L977.9 160.5 L979.1 163.5 M768.2 198.7 L770.1 196.3 L771.8 194.5 L774.1 196.5 L775.4 199.9 L774.2 202.0 L771.8 203.5 L770.7 201.8 L768.2 198.7 M779.6 128.6 L782.7 128.9 L783.8 129.4 L786.5 128.9 L789.8 129.4 L791.9 130.3 L794.6 129.8 L797.4 130.7 L800.0 132.2 L799.8 135.0 L800.3 137.0 L800.6 138.8 L802.7 138.9 L805.4 140.5 L807.7 140.6 M794.6 130.4 L792.4 132.7 L792.0 134.5 L789.8 135.8 L790.0 138.0 L789.2 141.8 L787.9 144.8 L786.2 146.6 L782.6 148.4 L782.7 150.2 L783.8 152.8 L785.0 155.0 L784.5 157.9 L784.4 161.0 L786.3 162.6 L787.4 165.8 L786.4 167.6 L786.8 170.6 L787.7 171.7 L789.8 174.1 L792.3 176.5 L793.4 177.7 L793.3 180.1 L794.6 182.5 L797.3 182.5 L800.6 183.1 L802.7 184.0 L805.3 184.3 L807.7 187.3 L810.3 186.8 L812.5 186.7 L814.9 189.1 M814.9 189.1 L812.9 186.2 L811.9 183.7 L812.3 181.8 L814.3 179.6 L814.9 177.7 L815.5 174.2 L817.3 171.8 L817.3 169.5 L818.2 166.8 L817.9 164.6 L818.6 162.4 L818.2 159.6 L818.5 157.4 L819.1 154.9 L819.6 152.1 L820.3 149.0 L818.5 145.4 L816.1 144.2 L813.8 144.1 L811.3 143.0 L807.7 140.6 M812.5 132.2 L812.5 134.5 L813.7 137.0 L816.1 137.6 M814.9 189.1 L813.6 192.4 L812.5 194.5 L812.8 196.7 L812.4 199.8 L811.3 201.7 L810.6 204.1 L809.9 207.0 L810.1 208.9 L806.5 211.3 L805.9 214.9 L804.7 217.3 M814.9 189.1 L817.8 189.4 L820.1 189.2 L822.1 189.1 L823.3 187.2 L825.7 184.9 L826.7 182.3 L829.3 180.7 L832.2 180.2 L833.5 180.5 L836.5 181.3 L839.5 181.2 L840.5 182.7 L843.7 182.5 L846.1 183.7 L849.7 183.7 L852.4 183.1 L854.5 181.3 L856.4 178.5 L856.9 175.3 L860.4 173.7 L862.9 173.5 L865.1 170.9 L866.5 168.2 L869.2 167.5 L871.3 168.2 L875.0 167.0 M873.1 170.6 L875.0 177.7 M822.1 189.1 L824.3 192.5 L825.7 194.5 L827.0 195.4 L829.8 197.5 L831.7 198.1 L833.7 199.4 L836.5 201.7 L836.7 204.9 L837.7 207.7 L837.1 209.9 L835.5 212.3 L834.7 214.9 L836.5 217.3 M837.7 207.7 L840.5 207.6 L843.7 207.7 L844.2 210.1 L846.1 212.5 L847.5 214.8 L847.3 217.3 L846.1 220.9 M804.7 232.9 L806.6 230.5 L807.7 229.3 L810.4 229.1 L812.8 228.1 L814.9 227.7 L817.3 226.9 L820.4 225.9 L821.5 226.4 L825.2 225.6 L826.9 225.1 L829.2 225.0 L831.2 223.8 L833.6 223.9 L836.5 223.3 L838.0 221.1 L840.1 219.7 L841.3 217.3 M852.1 219.7 L854.8 219.8 L856.9 218.5 L857.8 220.8 L859.2 223.1 L860.5 224.5 L864.1 222.1 L865.4 219.3 L866.5 217.3 M883.0 150.8 L886.6 148.4 L888.9 148.0 L892.1 149.0 L895.0 149.6 L897.4 149.7 L901.0 150.2 L903.5 150.4 L906.0 150.6 L909.4 149.6 L913.0 147.8 L915.3 149.1 L917.7 150.2 L919.2 153.1 L920.7 155.0 L922.2 152.1 L922.5 149.0 L924.9 147.8 L925.8 150.5 L926.7 152.6 L927.7 154.8 L927.9 158.1 L927.9 159.8 L930.0 161.1 L932.1 163.4 L934.5 167.0 L936.5 168.2 L939.3 168.8 L941.1 171.6 L942.3 173.0 L944.1 174.9 L944.7 177.7 L948.9 178.3 L951.3 175.3 L953.2 173.8 L956.1 173.0 L958.0 172.1 L960.9 170.6 L963.3 167.6 L965.7 169.7 L966.9 170.6 L968.3 169.3 L970.5 167.0 L972.0 165.0 L974.1 163.4 L977.4 163.0 L980.1 164.0 L981.9 163.6 L985.0 162.2 M883.0 150.8 L882.0 153.2 L881.8 156.2 L880.7 158.8 L879.4 161.0 L879.2 163.1 L880.6 165.8 L878.5 166.7 L876.1 167.9 L874.6 168.8 L874.4 171.3 L872.8 174.1 L874.4 175.9 L875.8 178.9 L878.2 181.3 L877.8 184.4 L877.6 187.6 L878.2 189.7 L880.6 190.9 L881.8 193.3 L885.4 194.5 L885.3 196.7 L884.2 199.7 L883.0 201.7 L884.5 203.8 L886.6 205.3 L887.7 208.5 L888.4 210.7 L890.7 211.1 L893.8 210.7 L896.0 213.1 L896.8 214.9 L899.2 217.3 L900.4 220.9 L903.1 222.1 L905.8 224.5 L908.1 225.5 L910.6 226.9 L912.7 229.0 L914.1 230.5 L917.7 230.5 L919.1 232.4 L920.1 235.3 L922.5 234.3 L924.3 232.9 L924.1 230.5 L924.9 226.9 L928.5 225.7 L931.5 225.1 L933.3 226.6 L934.5 229.3 L935.8 225.7 L935.7 223.3 L937.5 221.9 L939.9 219.8 L941.7 217.9 M948.9 178.3 L948.3 182.5 L946.5 184.3 L944.1 186.1 L941.8 186.8 L939.4 188.9 L938.1 189.7 L939.1 192.8 L939.3 195.7 L940.9 198.5 L941.7 201.7 L941.9 203.9 L942.9 206.5 L942.6 208.2 L941.1 211.3 L941.7 213.9 L942.3 217.3 L941.1 218.6 L938.8 220.1 L937.4 222.2 L935.7 223.3 M935.7 223.3 L938.4 225.2 M865.0 218.5 L866.6 216.7 L868.6 213.7 L869.8 211.8 L872.2 210.7 L873.1 212.2 L875.2 214.9 L876.2 217.7 L876.4 219.7 L878.0 218.0 L880.6 217.3 L882.4 216.5 L885.1 215.3 L886.6 213.7 L888.4 210.7 M979.4 164.0 L982.4 164.6 L985.3 163.6 L987.8 163.3 L990.8 163.4 L993.2 162.9 L995.1 161.8 L998.0 161.6 L1001.2 160.4 L1004.0 161.4 L1006.3 160.4 L1008.7 157.4 L1011.7 159.2 L1014.0 161.1 L1014.7 163.4 L1017.2 164.4 L1019.5 165.2 L1023.1 164.0 L1025.1 166.2 L1026.7 167.0 L1029.1 168.4 L1030.9 170.6 L1033.0 172.3 L1033.9 174.2 L1036.1 175.7 L1038.0 176.6 M1038.0 177.8 L1033.9 179.0 L1033.4 181.8 L1034.5 183.8 L1032.7 187.4 L1029.1 189.7 L1029.1 193.9 L1027.0 194.8 L1024.3 195.7 L1024.1 198.7 L1023.7 201.7 L1021.9 204.7 L1018.4 205.7 L1015.9 206.5 L1011.7 205.9 L1008.9 204.1 L1007.5 202.3 L1006.0 200.8 L1003.9 199.3 L1002.7 202.9 L999.2 205.3 L998.1 208.5 L996.8 210.1 L993.2 210.7 L992.0 207.8 L989.6 205.9 L987.9 207.0 L985.4 207.7 L983.6 210.7 L980.4 211.7 L978.8 213.1 L976.8 214.6 L975.8 217.3 L973.7 218.9 L971.6 219.1 L968.3 220.0 L965.6 219.7 L963.9 220.3 L962.2 222.3 L959.6 223.3 L957.3 222.5 L953.6 220.9 L952.2 222.5 L950.0 224.5 L948.1 227.0 L945.2 228.1 L942.8 228.7 L941.8 226.8 L940.0 225.1 L938.0 223.3 M805.3 232.2 L804.7 236.4 L803.2 238.4 L803.0 241.8 L801.1 244.3 L800.6 247.8 L797.6 249.6 L795.8 251.4 L795.2 255.0 L796.4 257.4 L797.0 259.8 L797.1 262.4 L797.6 264.6 L798.6 266.5 L800.8 268.4 L801.8 270.6 L800.0 273.6 L799.4 275.3 L795.8 276.5 L795.8 278.7 L795.2 281.3 L796.5 283.2 L798.2 284.9 L800.4 286.9 L802.4 289.7 L802.5 291.7 L804.1 294.5 L802.4 298.1 L800.1 298.2 L797.0 299.3 L797.0 302.9 M802.4 289.7 L805.0 291.0 L807.7 293.3 L809.3 293.8 L811.6 294.8 L813.7 296.3 L814.8 297.2 L817.3 299.3 L817.1 301.7 L817.9 304.1 L820.3 301.7 L821.7 298.6 L824.5 296.9 L826.0 294.8 L828.0 292.2 L829.3 290.9 L831.6 289.6 L834.1 288.5 L835.8 288.9 L838.5 287.1 L841.3 287.3 L843.7 287.4 L846.1 288.5 L848.7 288.9 L850.9 289.7 M817.9 304.1 L818.2 305.8 L819.7 308.9 L821.9 311.0 L823.3 313.7 L825.0 316.6 L825.7 319.7 L826.1 321.8 L825.1 324.5 L822.0 322.3 L819.7 320.9 L817.2 321.4 L813.7 321.5 L810.1 319.7 L807.7 320.9 M850.9 237.0 L848.3 236.3 L846.4 237.7 L843.9 236.2 L841.3 237.0 L838.2 237.8 L836.5 240.0 L834.8 241.3 L834.1 244.2 L831.0 245.3 L829.3 246.0 L828.7 250.2 L832.9 250.8 L836.0 251.5 L837.7 253.2 L840.5 254.1 L842.2 255.8 L843.7 256.2 L846.0 257.0 L846.6 259.5 L848.5 261.0 L849.8 262.7 L849.7 265.8 L848.5 270.0 L845.5 272.0 L843.1 273.0 L843.4 275.2 L844.9 277.7 L845.8 281.0 L847.3 283.7 L849.2 285.2 L850.1 288.1 L850.9 289.7 L854.5 292.1 L856.8 294.6 L858.1 296.9 L860.0 299.1 L860.5 301.7 L862.8 302.5 L865.3 304.1 M846.1 221.4 L846.1 225.0 L847.2 228.0 L847.3 231.0 L847.5 232.9 L848.5 235.8 L850.9 237.0 M854.5 255.0 L855.1 258.1 L855.1 261.0 L855.2 263.2 L854.7 265.2 L854.5 268.2 L850.9 270.0 M875.9 321.9 L873.8 320.9 L870.9 321.4 L867.9 323.1 L864.9 323.9 L862.7 324.8 L859.9 326.9 L856.5 328.5 L853.9 328.9 L851.8 330.2 L849.9 330.2 L847.0 330.9 L845.1 331.8 L842.0 331.9 L840.2 333.7 L839.0 335.9 L839.5 339.9 M863.9 303.5 L864.3 306.1 L865.9 309.0 L868.7 310.3 L869.9 313.0 L872.0 314.8 L873.9 318.0 L874.3 320.2 L875.9 321.9 M806.0 317.0 L806.6 318.7 L808.0 321.9 L812.0 320.9 L813.9 321.7 L817.0 321.9 L819.6 322.4 L822.0 324.4 L825.5 325.4 L824.8 323.4 L825.0 320.0 M826.0 320.0 L827.3 322.5 L829.6 324.8 L830.6 328.2 L832.0 330.8 L833.9 333.6 L835.6 335.6 L837.4 336.9 L839.1 339.2 M888.3 351.2 L886.6 353.5 L885.9 357.2 L884.9 358.3 L882.9 360.8 L881.8 363.9 L882.3 365.6 L880.0 368.0 L878.7 369.1 L875.6 370.9 L873.9 372.7 L870.5 374.2 L867.9 374.5 L864.3 372.7 L862.7 370.6 L860.7 368.0 L859.3 366.7 L857.1 364.4 L855.3 362.9 L853.8 360.5 L852.3 359.6 L850.5 357.6 L847.5 355.4 L847.4 352.2 L846.3 350.0 L844.6 348.1 L843.1 345.7 L840.7 344.5 L839.1 342.8 L839.1 339.2 M867.9 374.5 L865.2 375.6 L864.3 376.4 L861.9 377.5 L860.7 381.1 L862.5 383.4 L863.7 385.3 M873.0 317.2 L874.8 319.6 L876.3 321.3 L879.6 323.3 L880.8 325.6 L881.1 327.3 L881.1 329.8 L882.0 332.8 L883.9 335.5 L885.0 338.3 L885.6 340.0 L887.0 343.7 L888.0 346.0 L888.3 348.8 L888.6 352.0 M873.6 372.9 L876.3 375.0 L878.3 375.7 L879.6 377.1 L882.4 378.6 L885.2 381.0 L886.8 381.9 L888.8 383.0 L891.1 382.1 L894.0 383.1 L896.7 383.6 L898.8 384.9 L901.2 385.5 L902.8 385.3 L906.0 384.3 L908.3 385.1 L911.4 386.1 L909.6 388.6 L908.4 390.3 L909.6 393.9 L911.8 395.4 L913.2 397.5 L913.1 400.2 L914.4 403.5 L913.9 405.8 L913.8 409.5 L914.4 412.3 L916.2 414.3 L917.5 417.3 L918.9 419.3 L919.1 420.9 M902.4 381.9 L903.7 378.7 L905.4 376.5 L907.3 376.3 L909.8 376.2 L912.0 375.9 L914.1 376.1 L916.4 375.1 L919.1 374.7 L922.2 375.5 L923.9 375.3 L926.0 373.4 L928.7 372.3 L932.3 369.9 L934.0 366.8 L934.7 365.1 L937.1 363.3 M937.1 363.3 L938.3 365.5 L940.7 367.5 L942.4 368.6 L943.2 370.3 L945.5 372.3 L946.6 374.7 L946.7 377.1 L946.9 380.6 L945.5 383.1 L947.3 384.4 L947.0 386.3 L948.5 389.1 L948.7 391.3 L949.1 393.9 L946.0 395.2 L944.3 396.3 L944.6 398.4 L946.1 401.1 L943.6 403.4 L941.9 404.7 L939.7 403.1 L937.7 402.3 L938.3 405.9 L940.0 407.0 L943.1 408.3 L945.7 409.8 L947.9 410.7 L948.6 413.6 L947.5 414.9 L947.9 417.9 M883.2 310.0 L884.2 312.9 L884.4 314.8 L886.8 316.1 L889.3 316.0 L891.6 317.2 L893.8 317.0 L897.4 319.0 L900.0 319.0 L902.4 320.4 L903.6 322.0 L904.8 325.6 L908.4 326.8 L909.6 325.5 L910.9 323.0 L911.4 320.8 L914.4 319.0 L917.2 319.6 L920.3 320.2 L919.8 323.0 L920.3 326.8 L921.8 330.0 L922.7 331.6 L926.3 333.4 L925.2 335.9 L923.9 338.8 L921.5 341.8 L922.5 343.8 L923.9 346.0 L925.6 347.9 L927.1 349.4 L927.5 352.0 L929.0 353.8 L931.1 355.6 L931.9 358.5 L932.9 360.3 L934.4 363.4 L934.7 365.1 M864.2 303.7 L866.8 300.9 L869.0 299.5 L872.1 298.7 L875.0 297.7 L874.3 299.8 L873.8 302.5 L876.5 304.4 L878.6 304.9 L882.2 305.5 L881.9 308.0 L882.8 309.9 L883.4 312.1 L886.4 314.6 L888.2 315.7 L890.8 315.6 L893.6 316.0 L895.3 316.9 L897.6 318.6 L900.1 319.3 L903.7 321.7 L904.0 323.7 L904.9 326.5 L908.1 326.6 L909.7 325.3 L910.3 322.1 L911.5 319.3 L915.7 319.3 L917.8 319.6 L920.5 321.1 L919.9 324.1 L919.4 325.1 L919.9 327.7 L920.9 329.4 L922.9 332.5 L926.5 335.0 M855.8 254.6 L855.5 257.9 L855.2 260.6 L855.9 263.2 L856.1 264.6 L855.8 267.7 L853.3 269.7 L851.6 270.1"/>
<path stroke="#BEBEBE" stroke-width="1" d="M790.2 65.5 L960.7 65.5"/>
</g>
<g shape-rendering="crispEdges">
<rect x="755.5" y="50.5" width="270" height="387" fill="none" stroke="#000"/>
<line x1="777.5" y1="437" x2="777.5" y2="444" stroke="#000" stroke-width="1" />
<line x1="814.5" y1="437" x2="814.5" y2="444" stroke="#000" stroke-width="1" />
<line x1="851.5" y1="437" x2="851.5" y2="444" stroke="#000" stroke-width="1" />
<line x1="887.5" y1="437" x2="887.5" y2="444" stroke="#000" stroke-width="1" />
<line x1="924.5" y1="437" x2="924.5" y2="444" stroke="#000" stroke-width="1" />
<line x1="961.5" y1="437" x2="961.5" y2="444" stroke="#000" stroke-width="1" />
<line x1="997.5" y1="437" x2="997.5" y2="444" stroke="#000" stroke-width="1" />
<line x1="749" y1="369.5" x2="755" y2="369.5" stroke="#000" stroke-width="1" />
<line x1="749" y1="260.5" x2="755" y2="260.5" stroke="#000" stroke-width="1" />
<line x1="749" y1="152.5" x2="755" y2="152.5" stroke="#000" stroke-width="1" />
</g>
<g font-family='"Liberation Sans", sans-serif' font-size="11.2">
</g>
<circle cx="815.4" cy="95.3" r="3.4" fill="#FF0000"/>
<text x="73.90" y="70.4" font-family='"Liberation Serif", serif' font-size="16" font-weight="bold" fill="#000" textLength="172.69" lengthAdjust="spacing">Patterson Ck nr Fall</text>
<text x="72.90" y="87.4" font-family='"Liberation Serif", serif' font-size="16" font-weight="bold" fill="#000" textLength="32.13" lengthAdjust="spacing">City</text>
<text x="72.60" y="133" font-family='"Liberation Sans", sans-serif' font-size="16" font-weight="normal" fill="#000" textLength="92.03" lengthAdjust="spacingAndGlyphs">Site: 07P070</text>
<text x="186.30" y="133" font-family='"Liberation Sans", sans-serif' font-size="16" font-weight="normal" fill="#000" textLength="144.62" lengthAdjust="spacingAndGlyphs">Agency: WA.Ecology</text>
<text x="72.61" y="160.3" font-family='"Liberation Sans", sans-serif' font-size="16" font-weight="normal" fill="#000" textLength="210.51" lengthAdjust="spacingAndGlyphs">Location: -121.9268 , 47.5915</text>
<text x="72.59" y="178.2" font-family='"Liberation Sans", sans-serif' font-size="16" font-weight="normal" fill="#000" textLength="152.76" lengthAdjust="spacingAndGlyphs">EPA Subregion: 1711</text>
<text x="72.82" y="427.6" font-family='"Liberation Sans", sans-serif' font-size="16" font-weight="normal" fill="#A52A2A" textLength="208.80" lengthAdjust="spacingAndGlyphs">Data QA/QC NOT guaranteed</text>
<text x="94.50" y="230.8" font-family='"Liberation Sans", sans-serif' font-size="16" font-weight="normal" fill="#000" textLength="9.90" lengthAdjust="spacingAndGlyphs">A</text>
<text x="118.22" y="230.8" font-family='"Liberation Sans", sans-serif' font-size="16" font-weight="normal" fill="#000" textLength="30.41" lengthAdjust="spacingAndGlyphs">10.5</text>
<text x="202.20" y="230.8" font-family='"Liberation Sans", sans-serif' font-size="16" font-weight="normal" fill="#000" textLength="9.90" lengthAdjust="spacingAndGlyphs">A</text>
<text x="225.83" y="230.8" font-family='"Liberation Sans", sans-serif' font-size="16" font-weight="normal" fill="#000" textLength="30.31" lengthAdjust="spacingAndGlyphs">10.3</text>
<text x="93.48" y="249.8" font-family='"Liberation Sans", sans-serif' font-size="16" font-weight="normal" fill="#000" textLength="11.98" lengthAdjust="spacingAndGlyphs">B</text>
<text x="118.25" y="249.8" font-family='"Liberation Sans", sans-serif' font-size="16" font-weight="normal" fill="#000" textLength="21.14" lengthAdjust="spacingAndGlyphs">5.1</text>
<text x="201.84" y="249.8" font-family='"Liberation Sans", sans-serif' font-size="16" font-weight="normal" fill="#000" textLength="11.26" lengthAdjust="spacingAndGlyphs">B</text>
<text x="225.84" y="249.8" font-family='"Liberation Sans", sans-serif' font-size="16" font-weight="normal" fill="#000" textLength="21.36" lengthAdjust="spacingAndGlyphs">5.1</text>
<text x="92.82" y="268.8" font-family='"Liberation Sans", sans-serif' font-size="16" font-weight="normal" fill="#000" textLength="12.49" lengthAdjust="spacingAndGlyphs">C</text>
<text x="118.83" y="268.8" font-family='"Liberation Sans", sans-serif' font-size="16" font-weight="normal" fill="#000" textLength="25.85" lengthAdjust="spacingAndGlyphs">170</text>
<text x="200.63" y="268.8" font-family='"Liberation Sans", sans-serif' font-size="16" font-weight="normal" fill="#000" textLength="12.37" lengthAdjust="spacingAndGlyphs">C</text>
<text x="225.83" y="268.8" font-family='"Liberation Sans", sans-serif' font-size="16" font-weight="normal" fill="#000" textLength="38.99" lengthAdjust="spacingAndGlyphs">165.1</text>
<text x="73.25" y="287.8" font-family='"Liberation Sans", sans-serif' font-size="16" font-weight="normal" fill="#000" textLength="32.63" lengthAdjust="spacingAndGlyphs">Mag</text>
<text x="118.23" y="287.8" font-family='"Liberation Sans", sans-serif' font-size="16" font-weight="normal" fill="#000" textLength="21.51" lengthAdjust="spacingAndGlyphs">2.5</text>
<text x="63.57" y="306.8" font-family='"Liberation Sans", sans-serif' font-size="16" font-weight="normal" fill="#000" textLength="42.08" lengthAdjust="spacingAndGlyphs">Begin</text>
<text x="118.21" y="306.8" font-family='"Liberation Sans", sans-serif' font-size="16" font-weight="normal" fill="#000" textLength="39.84" lengthAdjust="spacingAndGlyphs">181.9</text>
<text x="76.56" y="325.8" font-family='"Liberation Sans", sans-serif' font-size="16" font-weight="normal" fill="#000" textLength="29.67" lengthAdjust="spacingAndGlyphs">End</text>
<text x="118.21" y="325.8" font-family='"Liberation Sans", sans-serif' font-size="16" font-weight="normal" fill="#000" textLength="26.49" lengthAdjust="spacingAndGlyphs">293</text>
<text x="817.98" y="30.8" font-family='"Liberation Sans", sans-serif' font-size="14.4" font-weight="bold" fill="#000" textLength="144.19" lengthAdjust="spacingAndGlyphs">States and Subregions</text>
<text x="864.58" y="487.4" font-family='"Liberation Sans", sans-serif' font-size="12" font-weight="normal" fill="#000" textLength="48.38" lengthAdjust="spacingAndGlyphs">Longitude</text>
<text x="516.00" y="987.7" font-family='"Liberation Sans", sans-serif' font-size="12" font-weight="normal" fill="#000" textLength="52.82" lengthAdjust="spacingAndGlyphs">WaterYear</text>
<text x="718.20" y="263.12" transform="rotate(-90 718.20 263.12)" font-family='"Liberation Sans", sans-serif' font-size="12" font-weight="normal" fill="#000" textLength="39.37" lengthAdjust="spacingAndGlyphs">Latitude</text>
<text x="25.30" y="769.20" transform="rotate(-90 25.30 769.20)" font-family='"Liberation Sans", sans-serif' font-size="12" font-weight="normal" fill="#000" textLength="50.24" lengthAdjust="spacingAndGlyphs">Temp. (C)</text>
<text x="24.80" y="937.22" transform="rotate(-90 24.80 937.22)" font-family='"Liberation Sans", sans-serif' font-size="12.3" font-weight="normal" fill="#000" textLength="41.70" lengthAdjust="spacingAndGlyphs">@Year</text>
<text x="396.20" y="424.95" transform="rotate(-90 396.20 424.95)" font-family='"Liberation Sans", sans-serif' font-size="11.2" font-weight="normal" fill="#000" textLength="5.51" lengthAdjust="spacingAndGlyphs">0</text>
<text x="396.20" y="366.01" transform="rotate(-90 396.20 366.01)" font-family='"Liberation Sans", sans-serif' font-size="11.2" font-weight="normal" fill="#000" textLength="6.61" lengthAdjust="spacingAndGlyphs">5</text>
<text x="396.20" y="309.98" transform="rotate(-90 396.20 309.98)" font-family='"Liberation Sans", sans-serif' font-size="11.2" font-weight="normal" fill="#000" textLength="12.79" lengthAdjust="spacingAndGlyphs">10</text>
<text x="396.20" y="249.98" transform="rotate(-90 396.20 249.98)" font-family='"Liberation Sans", sans-serif' font-size="11.2" font-weight="normal" fill="#000" textLength="12.79" lengthAdjust="spacingAndGlyphs">15</text>
<text x="396.20" y="189.95" transform="rotate(-90 396.20 189.95)" font-family='"Liberation Sans", sans-serif' font-size="11.2" font-weight="normal" fill="#000" textLength="11.73" lengthAdjust="spacingAndGlyphs">20</text>
<text x="396.20" y="129.95" transform="rotate(-90 396.20 129.95)" font-family='"Liberation Sans", sans-serif' font-size="11.2" font-weight="normal" fill="#000" textLength="11.73" lengthAdjust="spacingAndGlyphs">25</text>
<text x="396.20" y="71.98" transform="rotate(-90 396.20 71.98)" font-family='"Liberation Sans", sans-serif' font-size="11.2" font-weight="normal" fill="#000" textLength="12.79" lengthAdjust="spacingAndGlyphs">30</text>
<text x="414.95" y="462.2" font-family='"Liberation Sans", sans-serif' font-size="11.2" font-weight="normal" fill="#000" textLength="5.51" lengthAdjust="spacingAndGlyphs">0</text>
<text x="476.93" y="462.2" font-family='"Liberation Sans", sans-serif' font-size="11.2" font-weight="normal" fill="#000" textLength="19.00" lengthAdjust="spacingAndGlyphs">100</text>
<text x="546.95" y="462.2" font-family='"Liberation Sans", sans-serif' font-size="11.2" font-weight="normal" fill="#000" textLength="17.95" lengthAdjust="spacingAndGlyphs">200</text>
<text x="613.93" y="462.2" font-family='"Liberation Sans", sans-serif' font-size="11.2" font-weight="normal" fill="#000" textLength="19.00" lengthAdjust="spacingAndGlyphs">300</text>
<text x="50.00" y="825.01" transform="rotate(-90 50.00 825.01)" font-family='"Liberation Sans", sans-serif' font-size="11.2" font-weight="normal" fill="#000" textLength="6.61" lengthAdjust="spacingAndGlyphs">5</text>
<text x="50.00" y="776.98" transform="rotate(-90 50.00 776.98)" font-family='"Liberation Sans", sans-serif' font-size="11.2" font-weight="normal" fill="#000" textLength="12.79" lengthAdjust="spacingAndGlyphs">10</text>
<text x="50.00" y="724.98" transform="rotate(-90 50.00 724.98)" font-family='"Liberation Sans", sans-serif' font-size="11.2" font-weight="normal" fill="#000" textLength="12.79" lengthAdjust="spacingAndGlyphs">15</text>
<text x="50.00" y="672.95" transform="rotate(-90 50.00 672.95)" font-family='"Liberation Sans", sans-serif' font-size="11.2" font-weight="normal" fill="#000" textLength="11.73" lengthAdjust="spacingAndGlyphs">20</text>
<text x="50.00" y="621.95" transform="rotate(-90 50.00 621.95)" font-family='"Liberation Sans", sans-serif' font-size="11.2" font-weight="normal" fill="#000" textLength="11.73" lengthAdjust="spacingAndGlyphs">25</text>
<text x="50.00" y="925.95" transform="rotate(-90 50.00 925.95)" font-family='"Liberation Sans", sans-serif' font-size="11.2" font-weight="normal" fill="#000" textLength="5.51" lengthAdjust="spacingAndGlyphs">0</text>
<text x="50.00" y="908.98" transform="rotate(-90 50.00 908.98)" font-family='"Liberation Sans", sans-serif' font-size="11.2" font-weight="normal" fill="#000" textLength="12.79" lengthAdjust="spacingAndGlyphs">10</text>
<text x="50.00" y="887.95" transform="rotate(-90 50.00 887.95)" font-family='"Liberation Sans", sans-serif' font-size="11.2" font-weight="normal" fill="#000" textLength="11.73" lengthAdjust="spacingAndGlyphs">20</text>
<text x="263.98" y="962" font-family='"Liberation Sans", sans-serif' font-size="11.2" font-weight="normal" fill="#000" textLength="24.16" lengthAdjust="spacingAndGlyphs">1995</text>
<text x="561.95" y="962" font-family='"Liberation Sans", sans-serif' font-size="11.2" font-weight="normal" fill="#000" textLength="23.20" lengthAdjust="spacingAndGlyphs">2000</text>
<text x="857.95" y="962" font-family='"Liberation Sans", sans-serif' font-size="11.2" font-weight="normal" fill="#000" textLength="23.20" lengthAdjust="spacingAndGlyphs">2005</text>
<text x="765.95" y="461.8" font-family='"Liberation Sans", sans-serif' font-size="11.2" font-weight="normal" fill="#000" textLength="21.69" lengthAdjust="spacingAndGlyphs">-124</text>
<text x="802.95" y="461.8" font-family='"Liberation Sans", sans-serif' font-size="11.2" font-weight="normal" fill="#000" textLength="21.69" lengthAdjust="spacingAndGlyphs">-122</text>
<text x="839.95" y="461.8" font-family='"Liberation Sans", sans-serif' font-size="11.2" font-weight="normal" fill="#000" textLength="21.69" lengthAdjust="spacingAndGlyphs">-120</text>
<text x="875.95" y="461.8" font-family='"Liberation Sans", sans-serif' font-size="11.2" font-weight="normal" fill="#000" textLength="21.87" lengthAdjust="spacingAndGlyphs">-118</text>
<text x="912.95" y="461.8" font-family='"Liberation Sans", sans-serif' font-size="11.2" font-weight="normal" fill="#000" textLength="21.87" lengthAdjust="spacingAndGlyphs">-116</text>
<text x="949.95" y="461.8" font-family='"Liberation Sans", sans-serif' font-size="11.2" font-weight="normal" fill="#000" textLength="21.87" lengthAdjust="spacingAndGlyphs">-114</text>
<text x="985.95" y="461.8" font-family='"Liberation Sans", sans-serif' font-size="11.2" font-weight="normal" fill="#000" textLength="21.87" lengthAdjust="spacingAndGlyphs">-112</text>
<text x="742.60" y="375.98" transform="rotate(-90 742.60 375.98)" font-family='"Liberation Sans", sans-serif' font-size="11.2" font-weight="normal" fill="#000" textLength="12.79" lengthAdjust="spacingAndGlyphs">35</text>
<text x="742.60" y="265.95" transform="rotate(-90 742.60 265.95)" font-family='"Liberation Sans", sans-serif' font-size="11.2" font-weight="normal" fill="#000" textLength="11.73" lengthAdjust="spacingAndGlyphs">40</text>
<text x="742.60" y="157.95" transform="rotate(-90 742.60 157.95)" font-family='"Liberation Sans", sans-serif' font-size="11.2" font-weight="normal" fill="#000" textLength="11.73" lengthAdjust="spacingAndGlyphs">45</text>
</svg></body></html>
